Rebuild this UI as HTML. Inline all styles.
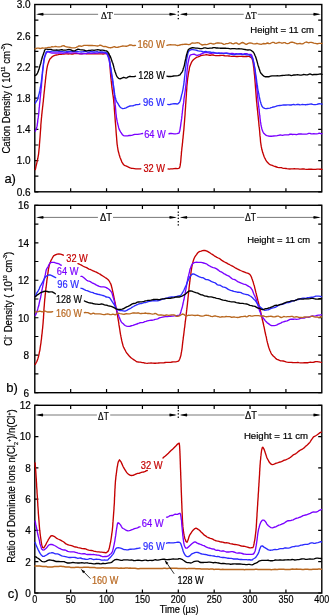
<!DOCTYPE html>
<html><head><meta charset="utf-8"><style>html,body{margin:0;padding:0;background:#fff;}svg{display:block;will-change:transform;filter:blur(0.3px);}</style></head><body>
<svg width="331" height="616" viewBox="0 0 331 616" font-family='"Liberation Sans", sans-serif'>
<rect width="331" height="616" fill="#fff"/>
<rect x="34.80" y="4.50" width="287.00" height="187.30" fill="none" stroke="#000" stroke-width="1.40"/>
<path d="M34.80,4.50H38.40M321.80,4.50H318.20" stroke="#000" stroke-width="1.2"/>
<path d="M34.80,20.11H38.40M321.80,20.11H318.20" stroke="#000" stroke-width="1.2"/>
<path d="M34.80,35.72H38.40M321.80,35.72H318.20" stroke="#000" stroke-width="1.2"/>
<path d="M34.80,51.33H38.40M321.80,51.33H318.20" stroke="#000" stroke-width="1.2"/>
<path d="M34.80,66.93H38.40M321.80,66.93H318.20" stroke="#000" stroke-width="1.2"/>
<path d="M34.80,82.54H38.40M321.80,82.54H318.20" stroke="#000" stroke-width="1.2"/>
<path d="M34.80,98.15H38.40M321.80,98.15H318.20" stroke="#000" stroke-width="1.2"/>
<path d="M34.80,113.76H38.40M321.80,113.76H318.20" stroke="#000" stroke-width="1.2"/>
<path d="M34.80,129.37H38.40M321.80,129.37H318.20" stroke="#000" stroke-width="1.2"/>
<path d="M34.80,144.98H38.40M321.80,144.98H318.20" stroke="#000" stroke-width="1.2"/>
<path d="M34.80,160.58H38.40M321.80,160.58H318.20" stroke="#000" stroke-width="1.2"/>
<path d="M34.80,176.19H38.40M321.80,176.19H318.20" stroke="#000" stroke-width="1.2"/>
<path d="M34.80,191.80H38.40M321.80,191.80H318.20" stroke="#000" stroke-width="1.2"/>
<path d="M70.67,4.50V8.10M70.67,191.80V188.20" stroke="#000" stroke-width="1.2"/>
<path d="M106.55,4.50V8.10M106.55,191.80V188.20" stroke="#000" stroke-width="1.2"/>
<path d="M142.43,4.50V8.10M142.43,191.80V188.20" stroke="#000" stroke-width="1.2"/>
<path d="M178.30,4.50V8.10M178.30,191.80V188.20" stroke="#000" stroke-width="1.2"/>
<path d="M214.18,4.50V8.10M214.18,191.80V188.20" stroke="#000" stroke-width="1.2"/>
<path d="M250.05,4.50V8.10M250.05,191.80V188.20" stroke="#000" stroke-width="1.2"/>
<path d="M285.93,4.50V8.10M285.93,191.80V188.20" stroke="#000" stroke-width="1.2"/>
<text x="30.60" y="8.40" font-size="10.00" text-anchor="end" fill="#000" stroke="#000" stroke-width="0.20" >3.0</text>
<text x="30.60" y="39.62" font-size="10.00" text-anchor="end" fill="#000" stroke="#000" stroke-width="0.20" >2.6</text>
<text x="30.60" y="70.83" font-size="10.00" text-anchor="end" fill="#000" stroke="#000" stroke-width="0.20" >2.2</text>
<text x="30.60" y="102.05" font-size="10.00" text-anchor="end" fill="#000" stroke="#000" stroke-width="0.20" >1.8</text>
<text x="30.60" y="133.27" font-size="10.00" text-anchor="end" fill="#000" stroke="#000" stroke-width="0.20" >1.4</text>
<text x="30.60" y="164.48" font-size="10.00" text-anchor="end" fill="#000" stroke="#000" stroke-width="0.20" >1.0</text>
<text x="30.60" y="195.70" font-size="10.00" text-anchor="end" fill="#000" stroke="#000" stroke-width="0.20" >0.6</text>
<path d="M37.80,14.30H175.30M181.30,14.30H318.80" stroke="#555" stroke-width="0.8"/>
<path d="M36.00,14.30L43.20,12.85Q44.10,14.30 43.20,15.75Z" fill="#000"/>
<path d="M176.90,14.30L169.70,12.85Q168.80,14.30 169.70,15.75Z" fill="#000"/>
<path d="M179.70,14.30L186.90,12.85Q187.80,14.30 186.90,15.75Z" fill="#000"/>
<path d="M320.90,14.30L313.70,12.85Q312.80,14.30 313.70,15.75Z" fill="#000"/>
<rect x="177.65" y="11.15" width="1.3" height="1.3" fill="#000"/>
<rect x="177.65" y="14.55" width="1.3" height="1.3" fill="#000"/>
<rect x="177.65" y="17.95" width="1.3" height="1.3" fill="#000"/>
<rect x="34.80" y="205.30" width="287.00" height="187.40" fill="none" stroke="#000" stroke-width="1.40"/>
<path d="M34.80,205.30H38.40M321.80,205.30H318.20" stroke="#000" stroke-width="1.2"/>
<path d="M34.80,224.04H38.40M321.80,224.04H318.20" stroke="#000" stroke-width="1.2"/>
<path d="M34.80,242.78H38.40M321.80,242.78H318.20" stroke="#000" stroke-width="1.2"/>
<path d="M34.80,261.52H38.40M321.80,261.52H318.20" stroke="#000" stroke-width="1.2"/>
<path d="M34.80,280.26H38.40M321.80,280.26H318.20" stroke="#000" stroke-width="1.2"/>
<path d="M34.80,299.00H38.40M321.80,299.00H318.20" stroke="#000" stroke-width="1.2"/>
<path d="M34.80,317.74H38.40M321.80,317.74H318.20" stroke="#000" stroke-width="1.2"/>
<path d="M34.80,336.48H38.40M321.80,336.48H318.20" stroke="#000" stroke-width="1.2"/>
<path d="M34.80,355.22H38.40M321.80,355.22H318.20" stroke="#000" stroke-width="1.2"/>
<path d="M34.80,373.96H38.40M321.80,373.96H318.20" stroke="#000" stroke-width="1.2"/>
<path d="M34.80,392.70H38.40M321.80,392.70H318.20" stroke="#000" stroke-width="1.2"/>
<path d="M70.67,205.30V208.90M70.67,392.70V389.10" stroke="#000" stroke-width="1.2"/>
<path d="M106.55,205.30V208.90M106.55,392.70V389.10" stroke="#000" stroke-width="1.2"/>
<path d="M142.43,205.30V208.90M142.43,392.70V389.10" stroke="#000" stroke-width="1.2"/>
<path d="M178.30,205.30V208.90M178.30,392.70V389.10" stroke="#000" stroke-width="1.2"/>
<path d="M214.18,205.30V208.90M214.18,392.70V389.10" stroke="#000" stroke-width="1.2"/>
<path d="M250.05,205.30V208.90M250.05,392.70V389.10" stroke="#000" stroke-width="1.2"/>
<path d="M285.93,205.30V208.90M285.93,392.70V389.10" stroke="#000" stroke-width="1.2"/>
<text x="29.10" y="209.20" font-size="10.00" text-anchor="end" fill="#000" stroke="#000" stroke-width="0.20" >16</text>
<text x="29.10" y="246.68" font-size="10.00" text-anchor="end" fill="#000" stroke="#000" stroke-width="0.20" >14</text>
<text x="29.10" y="284.16" font-size="10.00" text-anchor="end" fill="#000" stroke="#000" stroke-width="0.20" >12</text>
<text x="29.10" y="321.64" font-size="10.00" text-anchor="end" fill="#000" stroke="#000" stroke-width="0.20" >10</text>
<text x="29.10" y="359.12" font-size="10.00" text-anchor="end" fill="#000" stroke="#000" stroke-width="0.20" >8</text>
<text x="29.10" y="396.60" font-size="10.00" text-anchor="end" fill="#000" stroke="#000" stroke-width="0.20" >6</text>
<path d="M37.80,217.40H175.30M181.30,217.40H318.80" stroke="#555" stroke-width="0.8"/>
<path d="M36.00,217.40L43.20,215.95Q44.10,217.40 43.20,218.85Z" fill="#000"/>
<path d="M176.90,217.40L169.70,215.95Q168.80,217.40 169.70,218.85Z" fill="#000"/>
<path d="M179.70,217.40L186.90,215.95Q187.80,217.40 186.90,218.85Z" fill="#000"/>
<path d="M320.90,217.40L313.70,215.95Q312.80,217.40 313.70,218.85Z" fill="#000"/>
<rect x="177.65" y="211.55" width="1.3" height="1.3" fill="#000"/>
<rect x="177.65" y="214.55" width="1.3" height="1.3" fill="#000"/>
<rect x="177.65" y="217.65" width="1.3" height="1.3" fill="#000"/>
<rect x="177.65" y="221.05" width="1.3" height="1.3" fill="#000"/>
<rect x="177.65" y="224.25" width="1.3" height="1.3" fill="#000"/>
<rect x="34.80" y="405.30" width="287.00" height="187.70" fill="none" stroke="#000" stroke-width="1.40"/>
<path d="M34.80,405.30H38.40M321.80,405.30H318.20" stroke="#000" stroke-width="1.2"/>
<path d="M34.80,436.58H38.40M321.80,436.58H318.20" stroke="#000" stroke-width="1.2"/>
<path d="M34.80,467.87H38.40M321.80,467.87H318.20" stroke="#000" stroke-width="1.2"/>
<path d="M34.80,499.15H38.40M321.80,499.15H318.20" stroke="#000" stroke-width="1.2"/>
<path d="M34.80,530.43H38.40M321.80,530.43H318.20" stroke="#000" stroke-width="1.2"/>
<path d="M34.80,561.72H38.40M321.80,561.72H318.20" stroke="#000" stroke-width="1.2"/>
<path d="M34.80,593.00H38.40M321.80,593.00H318.20" stroke="#000" stroke-width="1.2"/>
<path d="M70.67,405.30V408.90M70.67,593.00V589.40" stroke="#000" stroke-width="1.2"/>
<path d="M106.55,405.30V408.90M106.55,593.00V589.40" stroke="#000" stroke-width="1.2"/>
<path d="M142.43,405.30V408.90M142.43,593.00V589.40" stroke="#000" stroke-width="1.2"/>
<path d="M178.30,405.30V408.90M178.30,593.00V589.40" stroke="#000" stroke-width="1.2"/>
<path d="M214.18,405.30V408.90M214.18,593.00V589.40" stroke="#000" stroke-width="1.2"/>
<path d="M250.05,405.30V408.90M250.05,593.00V589.40" stroke="#000" stroke-width="1.2"/>
<path d="M285.93,405.30V408.90M285.93,593.00V589.40" stroke="#000" stroke-width="1.2"/>
<text x="30.80" y="409.20" font-size="10.00" text-anchor="end" fill="#000" stroke="#000" stroke-width="0.20" >12</text>
<text x="30.80" y="440.48" font-size="10.00" text-anchor="end" fill="#000" stroke="#000" stroke-width="0.20" >10</text>
<text x="30.80" y="471.77" font-size="10.00" text-anchor="end" fill="#000" stroke="#000" stroke-width="0.20" >8</text>
<text x="30.80" y="503.05" font-size="10.00" text-anchor="end" fill="#000" stroke="#000" stroke-width="0.20" >6</text>
<text x="30.80" y="534.33" font-size="10.00" text-anchor="end" fill="#000" stroke="#000" stroke-width="0.20" >4</text>
<text x="30.80" y="565.62" font-size="10.00" text-anchor="end" fill="#000" stroke="#000" stroke-width="0.20" >2</text>
<text x="30.80" y="596.90" font-size="10.00" text-anchor="end" fill="#000" stroke="#000" stroke-width="0.20" >0</text>
<path d="M37.80,415.00H175.30M181.30,415.00H318.80" stroke="#555" stroke-width="0.8"/>
<path d="M35.60,415.00L42.80,413.55Q43.70,415.00 42.80,416.45Z" fill="#000"/>
<path d="M176.90,415.00L169.70,413.55Q168.80,415.00 169.70,416.45Z" fill="#000"/>
<path d="M179.70,415.00L186.90,413.55Q187.80,415.00 186.90,416.45Z" fill="#000"/>
<path d="M320.90,415.00L313.70,413.55Q312.80,415.00 313.70,416.45Z" fill="#000"/>
<rect x="177.65" y="410.05" width="1.3" height="1.3" fill="#000"/>
<rect x="177.65" y="413.25" width="1.3" height="1.3" fill="#000"/>
<rect x="177.65" y="416.55" width="1.3" height="1.3" fill="#000"/>
<text x="34.80" y="603.40" font-size="10.00" text-anchor="middle" fill="#000" stroke="#000" stroke-width="0.20" textLength="5.0" lengthAdjust="spacingAndGlyphs">0</text>
<text x="70.67" y="603.40" font-size="10.00" text-anchor="middle" fill="#000" stroke="#000" stroke-width="0.20" textLength="10.0" lengthAdjust="spacingAndGlyphs">50</text>
<text x="106.55" y="603.40" font-size="10.00" text-anchor="middle" fill="#000" stroke="#000" stroke-width="0.20" textLength="15.0" lengthAdjust="spacingAndGlyphs">100</text>
<text x="142.43" y="603.40" font-size="10.00" text-anchor="middle" fill="#000" stroke="#000" stroke-width="0.20" textLength="15.0" lengthAdjust="spacingAndGlyphs">150</text>
<text x="178.30" y="603.40" font-size="10.00" text-anchor="middle" fill="#000" stroke="#000" stroke-width="0.20" textLength="15.0" lengthAdjust="spacingAndGlyphs">200</text>
<text x="214.18" y="603.40" font-size="10.00" text-anchor="middle" fill="#000" stroke="#000" stroke-width="0.20" textLength="15.0" lengthAdjust="spacingAndGlyphs">250</text>
<text x="250.05" y="603.40" font-size="10.00" text-anchor="middle" fill="#000" stroke="#000" stroke-width="0.20" textLength="15.0" lengthAdjust="spacingAndGlyphs">300</text>
<text x="285.93" y="603.40" font-size="10.00" text-anchor="middle" fill="#000" stroke="#000" stroke-width="0.20" textLength="15.0" lengthAdjust="spacingAndGlyphs">350</text>
<text x="321.80" y="603.40" font-size="10.00" text-anchor="middle" fill="#000" stroke="#000" stroke-width="0.20" textLength="15.0" lengthAdjust="spacingAndGlyphs">400</text>
<text x="179.20" y="613.20" font-size="10.00" text-anchor="middle" fill="#000" stroke="#000" stroke-width="0.20" textLength="39" lengthAdjust="spacingAndGlyphs">Time (&#181;s)</text>
<rect x="98.10" y="11.50" width="15.90" height="5" fill="#fff"/>
<text x="106.80" y="19.00" font-size="10" text-anchor="middle" font-family='"Liberation Serif", serif' stroke="#000" stroke-width="0.2" textLength="11.6" lengthAdjust="spacingAndGlyphs">&#916;T</text>
<rect x="243.70" y="11.20" width="14.10" height="5" fill="#fff"/>
<text x="250.80" y="18.70" font-size="10" text-anchor="middle" font-family='"Liberation Serif", serif' stroke="#000" stroke-width="0.2" textLength="11.3" lengthAdjust="spacingAndGlyphs">&#916;T</text>
<rect x="97.90" y="213.30" width="15.10" height="5" fill="#fff"/>
<text x="106.00" y="220.80" font-size="10" text-anchor="middle" font-family='"Liberation Sans", sans-serif' stroke="#000" stroke-width="0.2" textLength="12.0" lengthAdjust="spacingAndGlyphs">&#916;T</text>
<rect x="244.20" y="213.50" width="12.80" height="5" fill="#fff"/>
<text x="250.60" y="221.00" font-size="10" text-anchor="middle" font-family='"Liberation Sans", sans-serif' stroke="#000" stroke-width="0.2" textLength="11.0" lengthAdjust="spacingAndGlyphs">&#916;T</text>
<rect x="96.90" y="412.10" width="13.30" height="5" fill="#fff"/>
<text x="103.40" y="419.60" font-size="10" text-anchor="middle" font-family='"Liberation Sans", sans-serif' stroke="#000" stroke-width="0.2" textLength="10.6" lengthAdjust="spacingAndGlyphs">&#916;T</text>
<rect x="244.60" y="411.50" width="13.60" height="5" fill="#fff"/>
<text x="251.00" y="419.00" font-size="10" text-anchor="middle" font-family='"Liberation Sans", sans-serif' stroke="#000" stroke-width="0.2" textLength="11.9" lengthAdjust="spacingAndGlyphs">&#916;T</text>
<text x="250.30" y="33.20" font-size="9.50" text-anchor="start" fill="#000" stroke="#000" stroke-width="0.20" textLength="63.6" lengthAdjust="spacingAndGlyphs">Height = 11 cm</text>
<text x="247.20" y="242.60" font-size="9.50" text-anchor="start" fill="#000" stroke="#000" stroke-width="0.20" textLength="63.0" lengthAdjust="spacingAndGlyphs">Height = 11 cm</text>
<text x="243.90" y="438.60" font-size="9.50" text-anchor="start" fill="#000" stroke="#000" stroke-width="0.20" textLength="64.2" lengthAdjust="spacingAndGlyphs">Height = 11 cm</text>
<text x="4.40" y="182.80" font-size="13.00" text-anchor="start" fill="#000" stroke="#000" stroke-width="0.20" >a)</text>
<text x="6.30" y="392.00" font-size="13.00" text-anchor="start" fill="#000" stroke="#000" stroke-width="0.20" >b)</text>
<text x="7.70" y="598.00" font-size="13.00" text-anchor="start" fill="#000" stroke="#000" stroke-width="0.20" >c)</text>
<text transform="translate(9.60,153.60) rotate(-90) scale(0.889,1)" font-size="10.80" stroke="#000" stroke-width="0.2">Cation Density ( 10<tspan font-size="6.00" dy="-4.60">11</tspan><tspan dy="4.60"> cm</tspan><tspan font-size="6.00" dy="-4.60">-3</tspan><tspan dy="4.60">)</tspan></text>
<text transform="translate(11.70,345.80) rotate(-90) scale(0.889,1)" font-size="10.80" stroke="#000" stroke-width="0.2">Cl<tspan font-size="6.00" dy="-4.60">-</tspan><tspan dy="4.60"> Density ( 10</tspan><tspan font-size="6.00" dy="-4.60">10</tspan><tspan dy="4.60"> cm</tspan><tspan font-size="6.00" dy="-4.60">-3</tspan><tspan dy="4.60">)</tspan></text>
<text transform="translate(15.30,562.80) rotate(-90) scale(0.889,1)" font-size="10.80" stroke="#000" stroke-width="0.2">Ratio of Dominate Ions n(Cl<tspan font-size="6.00" dy="2.2">2</tspan><tspan font-size="6.00" dy="-6.80">+</tspan><tspan dy="4.60">)/n(Cl</tspan><tspan font-size="6.00" dy="-4.60">+</tspan><tspan dy="4.60">)</tspan></text>
<path d="M35.3,169.6 35.5,168.9 35.7,167.8 36.0,166.4 36.3,165.0 36.7,163.6 37.0,162.1 37.2,161.2 37.4,160.3 37.6,159.4 37.8,158.5 38.0,157.3 38.2,156.2 38.4,155.1 38.6,153.8 38.8,151.9 39.0,149.7 39.1,148.8 39.2,147.9 39.3,147.1 39.4,146.1 39.4,145.0 39.5,143.8 39.6,142.6 39.7,141.4 39.8,140.1 39.9,138.9 40.0,137.7 40.1,136.4 40.2,135.0 40.3,133.4 40.4,132.0 40.5,130.7 40.6,129.5 40.7,128.3 40.8,126.9 40.8,125.6 40.9,124.3 41.0,123.2 41.1,122.2 41.2,121.0 41.3,120.0 41.4,118.5 41.6,116.9 41.7,115.6 41.8,114.3 42.0,112.8 42.1,111.6 42.2,110.5 42.4,109.3 42.5,108.2 42.6,107.0 42.8,105.8 42.9,104.8 43.0,103.8 43.1,102.7 43.3,101.5 43.4,100.1 43.5,98.7 43.7,97.3 43.8,96.1 43.9,94.7 44.1,93.3 44.2,91.9 44.4,90.6 44.5,89.5 44.6,88.2 44.8,86.7 44.9,85.4 45.0,84.5 45.1,83.5 45.3,82.2 45.4,80.7 45.5,79.6 45.7,78.3 45.8,76.9 46.0,75.5 46.1,74.5 46.3,73.4 46.4,72.2 46.5,71.0 46.7,70.1 46.8,69.2 47.0,68.2 47.3,66.6 47.6,65.2 48.0,63.9 48.3,63.0 48.7,62.1 49.0,61.0 49.7,59.4 50.3,58.6 51.0,58.0 52.0,56.9 53.0,56.2 54.2,55.7 55.5,55.2 56.4,55.0 58.2,54.7 59.1,54.4 60.1,54.4 61.2,54.3 62.5,54.2 63.9,54.1 65.4,53.9 67.2,53.9 68.2,54.0 69.2,53.9 70.4,53.8 71.6,54.0 72.9,54.0 74.2,53.7 75.5,53.6 76.8,53.6 78.1,53.7 79.4,53.8 80.6,53.8 81.8,53.8 83.0,53.7 84.0,53.6 85.5,53.6 86.9,53.8 88.2,53.9 89.4,53.9 90.6,53.8 91.7,53.7 92.8,53.8 93.9,53.8 95.0,53.7 96.4,53.8 97.9,53.8 99.3,53.8 100.7,53.8 101.9,53.9 103.0,54.0 104.0,53.8 105.9,53.4 107.0,53.5 108.1,53.5 109.0,56.1 109.1,56.8 109.2,57.8 109.3,58.7 109.4,59.5 109.5,60.6 109.7,62.2 109.8,63.6 109.9,64.9 110.0,66.3 110.1,67.8 110.2,69.2 110.3,70.6 110.4,72.2 110.5,73.4 110.6,74.5 110.7,75.7 110.8,76.9 110.9,77.8 111.1,79.2 111.2,80.9 111.4,82.5 111.5,83.7 111.7,85.1 111.8,86.5 111.9,87.7 112.1,88.7 112.2,89.6 112.4,90.7 112.5,92.0 112.7,93.4 112.8,94.4 113.0,95.2 113.1,96.2 113.3,97.3 113.4,98.4 113.6,99.6 113.7,101.2 113.9,103.1 114.0,104.0 114.1,105.0 114.2,106.1 114.3,107.2 114.3,108.4 114.4,109.7 114.5,110.9 114.6,112.2 114.7,113.6 114.8,114.8 114.9,116.0 115.0,117.4 115.1,118.7 115.2,120.1 115.3,121.4 115.4,122.6 115.5,123.6 115.6,124.9 115.7,126.2 115.8,127.3 115.9,128.5 116.0,130.0 116.1,131.6 116.2,133.0 116.3,134.3 116.4,135.4 116.5,136.5 116.6,137.8 116.7,139.3 116.8,140.5 116.9,141.6 117.0,142.9 117.1,144.0 117.2,144.8 117.4,145.7 117.5,146.9 117.8,148.5 118.0,149.8 118.3,151.3 118.7,152.7 119.0,153.9 119.3,155.0 119.7,156.2 120.0,157.4 120.4,158.3 120.7,159.0 121.3,160.6 121.9,162.1 122.6,163.2 123.3,164.3 124.3,165.3 125.3,165.7 126.4,166.1 127.6,166.7 128.9,167.3 130.2,167.9 131.6,168.3 132.9,168.4 134.4,168.6 135.9,168.8 137.4,168.9 138.8,168.9 140.0,168.9 140.8,168.8" fill="none" stroke="#c40000" stroke-width="1.35" stroke-linejoin="round" stroke-linecap="round"/>
<path d="M168.1,168.9 169.2,169.1 170.8,168.9 172.5,168.8 174.0,168.6 175.8,168.5 177.4,168.6 178.7,168.4 179.6,167.8 180.2,165.4 180.3,164.7 180.4,163.7 180.6,162.7 180.7,161.7 180.8,160.7 180.9,159.3 181.0,158.0 181.1,156.6 181.3,154.9 181.4,153.3 181.5,151.9 181.7,150.4 181.8,149.2 181.9,148.1 182.0,147.2 182.2,146.1 182.3,144.8 182.4,143.6 182.6,142.3 182.7,140.8 182.8,139.4 183.0,138.3 183.1,137.1 183.2,135.7 183.4,134.3 183.5,132.9 183.6,131.5 183.8,130.3 183.9,129.0 184.0,127.6 184.1,126.4 184.2,125.2 184.3,124.0 184.4,122.7 184.5,121.6 184.6,120.2 184.7,118.7 184.8,117.5 184.9,116.4 185.0,115.2 185.1,114.0 185.1,112.8 185.2,111.5 185.3,110.2 185.4,109.1 185.5,107.8 185.6,106.4 185.6,105.1 185.7,104.2 185.8,103.2 185.9,101.6 186.0,100.1 186.1,98.8 186.2,97.2 186.3,96.0 186.4,94.8 186.4,93.3 186.5,92.1 186.6,90.9 186.7,89.6 186.8,88.4 186.8,87.2 186.9,86.0 187.0,84.9 187.1,84.1 187.3,82.4 187.4,80.8 187.6,79.3 187.7,78.1 187.9,77.0 188.1,76.1 188.2,75.0 188.4,73.8 188.6,72.5 188.8,71.5 189.1,70.3 189.3,68.8 189.5,67.5 189.8,66.6 190.2,65.5 190.6,64.4 191.1,63.2 191.6,62.1 192.4,60.9 193.4,59.7 194.3,59.0 195.6,58.0 197.0,57.1 198.1,56.8 199.4,56.4 200.7,55.7 202.1,55.3 203.6,55.1 205.2,54.9 206.4,54.7 207.5,54.8 208.9,55.2 211.0,55.2 212.0,54.9 213.1,55.0 214.3,55.4 215.7,55.6 217.0,55.7 218.4,55.6 219.9,55.5 221.2,55.4 222.6,55.4 223.8,55.5 225.0,55.8 226.4,55.9 227.8,55.9 229.0,56.0 230.2,56.2 231.4,56.3 232.6,56.4 233.8,56.4 235.0,56.4 236.3,56.5 237.6,56.5 239.0,56.3 240.3,56.3 241.6,56.4 242.9,56.5 244.0,56.5 245.0,56.5 246.7,56.5 248.0,56.4 249.0,56.4 250.0,56.8 251.0,57.4 251.8,58.1 252.5,60.0 252.7,60.8 252.9,61.5 253.0,62.4 253.2,63.6 253.4,64.8 253.5,66.1 253.7,67.2 253.9,68.4 254.0,70.1 254.2,71.9 254.3,73.3 254.5,74.8 254.6,75.9 254.7,77.2 254.8,78.4 254.9,79.6 255.0,80.9 255.1,82.1 255.2,83.3 255.3,84.7 255.4,86.1 255.5,87.5 255.6,88.6 255.7,89.8 255.8,91.2 255.9,92.6 256.0,93.9 256.1,95.3 256.2,96.6 256.3,97.8 256.4,99.0 256.5,100.4 256.6,101.7 256.8,102.8 256.9,104.3 257.0,105.8 257.2,107.1 257.3,108.4 257.4,109.7 257.6,110.8 257.7,111.9 257.8,113.3 257.9,114.6 258.1,115.9 258.2,117.0 258.3,118.0 258.4,119.1 258.5,120.1 258.7,121.6 258.8,122.9 258.9,124.2 259.0,125.4 259.1,126.4 259.3,127.5 259.4,128.6 259.5,129.6 259.6,130.7 259.7,131.8 259.8,133.2 259.9,134.6 260.0,135.9 260.2,137.1 260.3,138.3 260.4,139.6 260.5,141.0 260.6,142.3 260.8,143.2 260.9,144.1 261.1,145.4 261.3,146.7 261.6,148.2 261.8,149.3 262.1,150.2 262.4,151.4 262.7,152.6 263.1,153.6 263.5,154.8 264.0,156.2 264.5,157.5 265.1,158.6 265.7,159.8 266.5,161.1 267.4,162.2 268.4,163.3 269.4,164.2 270.5,164.9 271.6,165.2 272.8,165.7 274.0,166.1 275.3,166.5 276.6,167.0 277.7,167.4 279.0,167.6 280.2,167.6 281.4,167.7 282.6,168.1 283.8,168.3 285.0,168.4 285.9,168.5 286.9,168.7 288.2,168.9 290.0,169.0 290.9,168.9 292.0,168.9 293.1,168.8 294.3,168.6 295.5,168.8 296.8,168.9 298.2,168.9 299.5,169.1 300.9,169.1 302.3,169.0 303.7,169.0 305.0,169.2 306.2,169.3 307.5,169.3 308.8,169.2 310.2,169.2 311.6,169.2 313.0,169.3 314.4,169.4 315.8,169.4 317.1,169.2 318.3,169.1 319.4,169.2 320.4,169.2 321.3,169.2 322.0,169.4" fill="none" stroke="#c40000" stroke-width="1.35" stroke-linejoin="round" stroke-linecap="round"/>
<path d="M35.3,131.3 35.6,130.5 36.1,129.4 36.5,128.1 37.0,126.4 37.2,125.3 37.3,124.2 37.5,123.1 37.7,121.7 37.8,120.0 38.0,118.8 38.2,117.9 38.3,116.8 38.5,115.6 38.6,114.3 38.8,113.1 38.9,111.9 39.0,110.6 39.1,109.2 39.2,107.8 39.4,106.4 39.5,105.1 39.6,103.9 39.8,102.5 39.9,101.4 40.0,100.4 40.1,98.9 40.2,97.6 40.4,96.5 40.5,95.1 40.6,93.7 40.8,92.7 40.9,91.6 41.0,90.3 41.1,89.0 41.2,88.1 41.4,86.8 41.5,85.2 41.6,83.8 41.7,82.7 41.8,81.6 41.9,80.2 42.0,78.9 42.1,77.5 42.2,76.2 42.3,75.2 42.4,74.1 42.5,72.6 42.6,71.3 42.8,70.3 42.9,69.2 43.0,68.2 43.2,67.0 43.4,65.5 43.5,64.0 43.7,62.8 43.9,61.5 44.1,60.0 44.3,58.8 44.6,57.5 44.8,56.7 45.0,56.3 45.7,54.4 46.5,52.8 47.5,51.9 48.7,52.0 50.2,52.7 52.0,53.0 53.1,53.0 54.3,53.0 55.7,53.0 57.1,53.0 58.5,53.0 60.0,52.9 61.2,53.0 62.4,53.2 63.6,53.2 64.9,52.9 66.2,52.7 67.5,52.7 68.7,52.9 70.0,53.1 71.2,53.1 72.5,52.9 73.8,52.8 75.0,52.8 76.2,52.9 77.5,53.1 78.8,53.4 80.0,53.6 81.2,53.8 82.5,53.8 83.8,53.5 85.0,53.6 86.2,53.7 87.5,53.1 88.8,53.0 90.0,53.2 91.3,53.3 92.6,53.2 94.0,53.1 95.3,53.1 96.6,53.2 97.9,53.0 99.0,52.6 100.0,52.6 101.7,52.8 103.0,52.7 104.1,52.8 105.0,53.2 107.0,54.0 107.4,54.9 107.8,56.0 108.2,57.1 108.6,58.5 109.0,59.9 109.2,60.6 109.4,61.9 109.6,63.1 109.8,64.1 110.0,65.4 110.2,66.7 110.4,67.9 110.6,69.5 110.8,71.0 111.0,72.1 111.2,73.1 111.4,74.4 111.6,75.8 111.8,77.0 112.0,78.1 112.2,79.2 112.4,80.4 112.7,81.6 112.9,82.9 113.1,84.6 113.3,85.8 113.4,86.6 113.6,88.0 113.8,89.4 113.9,90.8 114.1,91.9 114.2,92.9 114.3,94.4 114.4,95.9 114.5,96.9 114.7,97.8 114.8,99.0 114.9,100.4 115.0,102.1 115.1,103.7 115.2,104.9 115.4,106.3 115.5,107.8 115.6,108.8 115.7,110.0 115.8,111.6 115.9,112.9 116.0,113.8 116.2,114.9 116.3,116.3 116.5,117.8 116.7,119.0 117.0,120.3 117.2,121.7 117.5,122.9 117.7,124.0 118.0,124.9 118.4,126.4 118.7,127.9 119.1,129.1 119.5,129.9 120.0,130.9 120.7,132.1 121.6,133.4 122.5,134.8 123.6,135.6 124.8,135.8 126.1,135.9 127.6,135.8 129.0,135.5 130.1,135.5 131.3,135.4 132.5,135.2 133.7,134.7 135.0,134.3 136.3,134.4 137.7,134.3 139.2,134.1 140.6,133.9 141.8,133.6 142.6,133.5" fill="none" stroke="#7a00ff" stroke-width="1.35" stroke-linejoin="round" stroke-linecap="round"/>
<path d="M168.9,133.8 169.8,133.5 171.2,133.5 172.7,133.7 174.0,133.9 175.5,133.8 176.9,133.7 178.0,133.4 178.9,133.2 179.5,131.8 179.7,131.0 179.9,130.2 180.1,129.0 180.3,127.7 180.5,126.6 180.7,125.1 181.0,122.8 181.1,121.8 181.3,121.2 181.4,120.4 181.5,119.5 181.7,118.4 181.8,116.9 182.0,115.4 182.1,114.2 182.3,112.9 182.4,111.5 182.6,109.8 182.8,108.1 182.9,106.8 183.1,106.0 183.2,105.2 183.4,104.1 183.6,102.9 183.8,101.2 183.9,99.6 184.1,98.1 184.3,96.8 184.5,95.6 184.7,94.6 184.8,93.4 185.0,92.2 185.2,91.1 185.3,90.2 185.5,88.7 185.6,87.3 185.8,86.1 185.9,84.8 186.0,83.6 186.1,82.8 186.3,81.5 186.4,80.0 186.5,79.0 186.6,77.6 186.7,76.1 186.8,75.0 186.9,73.8 187.0,72.3 187.1,70.8 187.2,69.3 187.4,67.9 187.5,67.0 187.7,65.5 187.9,63.9 188.2,62.4 188.5,61.1 188.7,59.8 189.0,58.6 189.3,57.3 190.0,55.5 190.8,54.8 191.6,54.6 193.9,54.1 195.0,54.5 196.1,55.2 197.4,55.4 198.9,54.9 199.9,54.6 200.9,54.1 202.1,53.5 203.4,53.0 204.6,52.7 206.0,52.6 207.4,52.7 208.7,52.9 210.0,53.3 211.2,53.4 212.3,53.0 213.4,53.0 215.0,53.1 216.0,53.1 217.1,53.3 218.4,53.4 219.7,53.4 221.0,53.3 222.4,53.2 223.7,53.2 225.0,53.1 226.2,53.1 227.5,53.2 228.8,53.4 230.0,53.6 231.2,53.5 232.5,53.4 233.8,53.7 235.0,53.9 236.3,53.7 237.6,53.8 239.0,53.9 240.3,53.7 241.6,53.7 242.9,54.3 244.0,54.2 245.0,53.6 246.7,53.7 248.0,54.1 249.1,54.3 250.0,54.4 251.2,54.5 252.0,55.8 252.3,56.9 252.7,58.0 253.0,58.9 253.3,60.2 253.7,61.8 254.0,63.6 254.2,64.7 254.3,65.9 254.5,67.0 254.6,68.0 254.8,69.1 254.9,70.4 255.1,71.8 255.2,73.1 255.4,74.5 255.5,76.1 255.7,77.7 255.8,79.0 256.0,80.0 256.1,80.7 256.2,82.0 256.4,83.6 256.5,84.8 256.6,85.9 256.7,87.2 256.9,88.3 257.0,89.7 257.1,90.9 257.2,92.0 257.4,93.6 257.5,95.0 257.6,96.0 257.7,97.5 257.9,98.9 258.0,100.2 258.1,101.5 258.3,102.9 258.4,104.1 258.6,105.4 258.7,106.7 258.9,108.0 259.0,109.2 259.2,110.7 259.3,112.3 259.5,113.5 259.6,114.4 259.8,115.4 259.9,116.6 260.0,118.0 260.2,119.3 260.3,120.2 260.5,121.9 260.8,123.5 261.0,124.9 261.2,125.9 261.4,126.9 261.7,128.1 261.9,128.9 262.1,129.6 262.7,131.3 263.4,132.6 264.0,133.6 265.7,135.1 266.8,135.5 268.0,136.0 269.4,136.2 271.1,136.2 272.3,136.2 273.6,136.0 275.0,135.8 276.1,135.9 277.2,135.7 278.5,135.3 280.2,135.0 281.2,135.1 282.3,135.3 283.5,135.1 284.8,134.9 286.1,134.8 287.4,134.9 288.7,134.8 290.0,134.2 291.2,134.2 292.5,134.5 293.7,134.3 295.0,134.4 296.2,134.7 297.5,134.3 298.7,134.0 300.0,134.0 301.2,134.0 302.5,134.1 303.7,134.1 304.9,134.1 306.1,134.2 307.4,133.9 308.7,133.4 310.0,133.4 311.2,133.9 312.5,133.9 313.8,133.7 315.2,133.8 316.6,133.9 318.0,133.6 319.2,133.2 320.3,133.4 321.3,133.8 322.0,133.6" fill="none" stroke="#7a00ff" stroke-width="1.35" stroke-linejoin="round" stroke-linecap="round"/>
<path d="M35.3,103.2 36.0,101.9 37.0,100.3 37.4,99.9 37.8,98.8 38.2,97.1 38.6,95.4 39.0,94.1 39.3,93.1 39.5,91.9 39.8,90.7 40.0,89.3 40.3,88.0 40.5,86.7 40.8,85.3 41.0,83.7 41.2,82.6 41.3,81.8 41.5,80.7 41.6,79.3 41.8,78.2 41.9,77.0 42.1,75.6 42.2,74.4 42.4,73.4 42.5,72.1 42.6,70.6 42.8,69.2 42.9,68.3 43.1,67.1 43.2,65.7 43.4,64.4 43.5,63.2 43.7,61.9 43.8,60.7 44.0,59.7 44.3,58.0 44.7,56.4 45.1,55.2 45.4,54.1 45.8,53.2 46.2,51.8 47.6,51.3 48.5,51.4 49.5,51.6 50.8,51.3 52.1,51.1 53.6,51.2 55.1,51.1 56.7,50.9 57.7,51.0 58.9,51.3 60.0,51.3 61.2,51.4 62.4,51.6 63.7,51.8 64.9,51.8 66.2,51.7 67.5,51.5 68.7,51.5 70.0,51.5 71.2,51.5 72.5,51.4 73.7,51.3 75.0,51.4 76.2,51.6 77.5,51.5 78.7,51.7 80.0,51.8 81.3,52.0 82.6,51.9 84.0,51.5 85.2,51.3 86.5,51.5 87.8,52.1 89.1,52.2 90.5,51.7 91.9,51.7 93.2,52.0 94.6,52.0 95.8,51.8 97.0,51.6 98.1,51.9 99.1,52.1 100.0,52.0 102.1,52.0 103.4,52.1 104.2,52.1 105.0,52.2 107.0,53.2 107.5,53.8 108.0,55.1 108.5,56.7 109.0,58.1 109.3,59.0 109.5,60.2 109.7,61.5 110.0,63.0 110.2,64.7 110.5,66.4 110.7,66.9 110.9,67.8 111.1,69.5 111.3,71.2 111.5,72.4 111.7,73.6 111.9,74.6 112.1,76.0 112.3,77.4 112.5,78.5 112.7,79.4 112.9,81.2 113.1,83.4 113.3,84.7 113.5,85.5 113.6,86.7 113.8,88.2 114.0,89.6 114.2,91.0 114.3,92.0 114.5,92.9 114.8,94.9 115.1,96.4 115.4,97.7 115.7,98.8 116.0,100.0 116.5,101.3 117.0,102.2 117.5,102.9 118.0,103.7 119.0,105.5 120.0,106.9 121.3,108.0 122.7,108.6 124.3,108.4 126.0,107.8 127.3,107.2 129.0,106.4 130.0,106.0 131.2,105.9 132.5,105.8 133.8,105.5 135.0,105.0 136.4,104.7 137.8,104.6 139.0,104.3 139.9,104.0" fill="none" stroke="#2b2bff" stroke-width="1.35" stroke-linejoin="round" stroke-linecap="round"/>
<path d="M167.8,104.4 168.7,104.6 169.9,104.5 171.4,104.2 172.8,103.9 174.0,103.7 175.6,103.7 176.9,104.0 178.0,103.8 179.5,102.3 180.0,101.3 180.4,100.0 181.0,98.0 181.2,96.8 181.5,95.4 181.8,94.2 182.1,93.3 182.4,92.2 182.7,90.6 183.0,89.1 183.2,87.8 183.4,86.5 183.6,85.5 183.8,84.5 183.9,83.1 184.1,82.0 184.2,81.2 184.3,79.8 184.5,78.1 184.6,76.8 184.8,75.8 184.9,74.8 185.0,73.5 185.1,72.2 185.3,70.7 185.4,69.4 185.5,68.0 185.7,66.9 185.9,65.5 186.1,63.8 186.3,62.4 186.5,61.1 186.7,59.5 186.9,58.3 187.1,57.4 187.3,56.4 187.5,55.3 188.1,52.7 188.7,51.3 189.3,50.7 190.3,50.0 191.6,49.7 192.9,49.6 194.4,49.8 196.1,50.1 197.2,50.5 198.3,50.9 199.6,51.1 200.8,51.2 202.2,51.5 203.4,51.8 204.6,51.6 205.8,51.5 207.2,51.8 208.5,51.9 210.0,52.0 211.1,52.3 212.3,52.4 213.5,52.3 214.7,52.7 216.0,53.1 217.4,53.1 218.8,53.0 220.3,53.1 221.4,53.2 222.5,53.4 223.8,53.6 225.0,53.4 226.4,53.2 227.7,53.6 229.0,53.9 230.3,54.2 231.6,54.3 232.8,54.6 233.9,54.9 235.0,54.5 236.5,54.2 237.9,54.1 239.3,54.0 240.6,54.2 241.8,54.6 243.0,54.5 244.0,54.2 245.0,54.4 246.7,54.8 248.0,54.8 249.1,54.9 250.0,55.4 251.2,56.2 252.0,57.6 252.3,58.2 252.7,58.9 253.0,60.1 253.3,61.6 253.7,62.9 254.0,64.1 254.2,65.1 254.4,66.2 254.6,67.2 254.8,68.1 255.0,69.2 255.2,70.4 255.4,71.9 255.6,73.5 255.8,74.8 256.0,76.0 256.2,77.5 256.4,78.6 256.5,79.7 256.7,81.4 256.9,83.0 257.1,84.2 257.3,85.1 257.5,86.4 257.6,87.8 257.8,89.0 258.0,90.2 258.2,91.5 258.5,92.6 258.8,93.7 259.0,95.0 259.2,96.4 259.5,97.7 259.8,99.0 260.0,100.1 260.4,101.5 260.8,102.7 261.1,104.0 261.6,105.3 262.0,106.3 263.1,107.6 264.7,108.4 265.7,108.6 266.8,108.5 268.2,108.3 270.0,108.1 271.0,107.7 272.0,107.4 273.2,107.0 274.4,106.8 275.7,106.4 277.1,105.8 278.4,105.6 279.8,105.5 281.2,105.4 282.4,105.2 283.6,105.0 284.8,105.0 286.0,105.0 287.3,104.9 288.6,104.9 289.9,105.0 291.2,105.0 292.5,104.6 293.7,104.4 295.0,104.8 296.3,104.7 297.5,104.3 298.8,104.5 300.0,104.8 301.3,104.7 302.5,104.5 303.8,104.6 305.0,104.7 306.2,104.7 307.5,104.5 308.7,104.3 310.0,104.1 311.3,104.0 312.7,104.4 314.1,104.6 315.5,104.6 316.9,104.4 318.2,104.0 319.3,103.7 320.4,103.8 321.3,103.9 322.0,104.2" fill="none" stroke="#2b2bff" stroke-width="1.35" stroke-linejoin="round" stroke-linecap="round"/>
<path d="M35.0,75.5 35.9,75.2 37.0,74.0 37.5,73.0 38.0,71.9 38.5,70.6 39.0,69.3 39.3,68.1 39.7,66.6 40.0,65.4 40.3,64.6 40.7,63.5 41.0,62.1 41.3,60.6 41.7,59.3 42.0,58.2 42.4,56.8 42.7,55.8 43.0,55.2 43.5,53.7 44.1,52.0 44.6,50.3 45.5,49.1 46.6,49.1 48.0,49.3 50.0,49.4 51.1,49.4 52.4,49.8 53.8,50.1 55.3,50.1 56.7,50.0 57.9,50.1 59.1,50.2 60.4,49.8 61.6,49.7 62.9,50.0 64.0,50.1 65.3,50.1 66.6,49.9 67.8,49.6 68.9,49.5 70.0,49.6 71.5,50.2 72.7,50.8 74.0,50.9 75.3,50.6 76.5,49.8 78.0,49.2 79.0,49.3 80.0,49.6 81.1,49.8 82.4,49.9 84.0,50.1 85.0,50.5 86.2,50.8 87.5,50.7 88.9,50.5 90.2,50.4 91.6,50.2 92.9,50.1 94.0,50.3 95.0,50.1 96.7,49.8 97.9,49.7 98.9,49.8 100.0,50.2 101.3,50.2 102.7,50.1 103.9,50.4 105.0,50.7 106.4,50.9 107.5,51.6 108.2,52.5 108.9,53.6 109.5,55.0 110.0,55.8 110.5,56.9 111.0,58.3 111.5,59.8 111.9,61.1 112.3,62.2 112.8,63.3 113.2,64.7 113.6,66.2 114.0,67.9 114.4,69.4 114.8,70.7 115.1,71.8 115.5,72.7 116.0,74.3 116.6,75.7 117.2,76.9 118.5,78.3 120.0,78.8 121.1,78.5 122.4,77.8 123.6,77.3 124.8,77.7 126.0,78.0 127.2,77.6 128.4,76.8 129.7,76.3 131.0,76.5 132.6,76.7 134.3,76.6 135.5,76.2" fill="none" stroke="#000000" stroke-width="1.35" stroke-linejoin="round" stroke-linecap="round"/>
<path d="M167.0,76.1 167.9,76.5 169.2,76.3 170.7,76.5 172.0,76.4 173.5,76.0 174.9,75.9 176.0,75.9 178.0,75.7 180.0,74.8 180.8,73.7 181.6,72.6 182.1,72.1 182.5,71.2 183.0,69.7 183.4,68.2 183.8,67.2 184.3,65.6 184.5,64.5 184.8,62.9 185.1,61.4 185.4,60.1 185.7,58.9 186.0,57.5 186.3,56.0 186.6,54.7 187.1,53.1 187.5,51.6 188.0,50.4 188.4,49.6 190.2,48.3 191.4,48.0 192.8,47.7 194.3,47.9 195.7,48.1 197.2,48.1 198.9,48.3 200.1,48.6 201.4,48.6 202.7,48.3 204.0,47.9 205.2,47.8 206.4,48.1 207.4,48.4 208.5,48.4 210.0,48.1 211.0,48.1 212.2,48.0 213.5,47.6 214.8,47.7 216.2,48.0 217.5,48.0 218.8,48.1 220.0,48.2 221.5,48.2 222.9,48.2 224.2,48.2 225.5,48.2 226.7,48.4 228.0,48.4 229.4,48.6 230.7,48.8 232.0,48.6 233.4,48.6 235.0,48.7 236.1,48.8 237.4,48.8 238.8,48.7 240.1,48.9 241.5,48.9 242.8,49.1 244.0,49.4 245.0,49.5 246.7,49.8 248.0,50.0 249.0,49.9 250.0,49.9 251.4,50.5 252.5,51.4 253.3,52.1 254.2,53.5 255.0,55.5 255.4,56.3 255.8,57.2 256.2,58.6 256.7,60.2 257.1,61.7 257.5,63.2 257.9,64.7 258.3,66.0 258.8,67.4 259.2,68.8 259.6,69.9 260.0,71.3 260.6,72.8 261.2,73.5 261.9,74.2 262.5,75.0 263.7,76.1 265.0,76.7 266.2,76.7 268.0,76.7 269.2,76.7 270.6,76.2 272.1,75.8 273.6,75.8 275.0,75.9 276.2,75.8 277.3,75.7 278.4,75.8 279.6,75.8 281.0,75.6 282.1,75.5 283.3,75.4 284.6,75.3 285.9,75.2 287.3,75.1 288.6,74.9 290.0,75.2 291.2,75.6 292.4,75.3 293.7,75.0 294.9,75.0 296.2,74.8 297.5,74.6 298.7,74.8 300.0,75.1 301.2,75.1 302.5,74.8 303.7,74.5 304.9,74.6 306.1,74.9 307.4,74.8 308.7,74.3 310.0,73.9 311.2,74.3 312.5,74.8 313.8,74.5 315.2,74.4 316.6,74.5 318.0,74.4 319.2,74.2 320.3,74.0 321.3,74.2 322.0,74.4" fill="none" stroke="#000000" stroke-width="1.35" stroke-linejoin="round" stroke-linecap="round"/>
<path d="M35.0,48.8 35.9,48.6 37.1,48.1 38.6,48.1 40.0,48.5 41.1,48.4 42.3,48.0 43.6,48.1 44.8,48.1 46.0,47.8 47.2,47.7 48.4,47.4 49.6,47.3 50.8,47.1 52.0,46.6 53.2,46.8 54.4,46.7 55.5,46.4 56.7,46.7 58.0,46.9 59.4,46.8 60.9,46.6 62.4,45.8 63.8,45.6 65.0,46.4 66.4,46.8 67.5,47.0 68.7,47.1 70.2,47.5 71.7,47.9 73.3,47.9 74.7,47.8 76.2,47.4 77.8,46.6 78.9,45.9 80.2,46.0 81.5,46.3 82.7,45.9 84.0,45.3 85.1,45.3 86.2,45.4 87.3,45.3 88.5,45.5 90.0,45.5 91.1,45.4 92.3,45.5 93.6,45.6 94.9,45.7 96.3,45.9 97.6,46.0 98.9,45.7 100.0,45.2 101.4,45.5 102.6,46.2 103.8,46.6 105.0,46.4 106.1,46.7 107.3,47.1 108.5,47.5 109.8,47.7 111.0,47.7 112.2,47.5 113.4,46.8 114.5,46.7 116.0,47.4 117.4,47.4 118.7,47.0 120.0,46.7 121.4,46.3 122.8,46.0 124.1,46.1 125.4,46.2 127.0,46.2 128.4,45.7 130.0,44.8 131.4,45.0 133.0,45.7 134.5,45.5 135.5,45.4" fill="none" stroke="#b8671f" stroke-width="1.35" stroke-linejoin="round" stroke-linecap="round"/>
<path d="M167.0,45.4 167.8,45.1 169.0,44.8 170.4,44.7 171.9,44.9 173.5,44.9 175.0,44.8 176.2,45.2 177.4,45.5 178.6,45.4 179.9,45.0 181.2,44.7 182.5,44.5 183.7,44.4 185.0,44.2 186.2,44.2 187.5,44.4 188.8,44.7 190.0,44.4 191.2,43.4 192.5,42.9 193.8,43.1 195.0,43.2 196.2,42.9 197.5,42.6 198.8,42.8 200.0,43.7 201.2,44.5 202.5,45.0 203.8,44.6 205.0,44.4 206.2,44.6 207.5,44.3 208.8,43.8 210.0,43.4 211.2,43.4 212.5,43.8 213.8,44.0 215.0,43.7 216.2,43.2 217.5,42.8 218.8,43.0 220.0,43.2 221.2,43.1 222.5,43.6 223.8,44.3 225.0,44.1 226.2,43.7 227.4,43.6 228.5,43.3 229.7,42.8 230.9,42.9 232.1,43.7 233.5,43.9 235.0,43.1 236.1,42.8 237.3,43.4 238.5,44.2 239.8,44.0 241.1,43.0 242.5,42.5 243.9,43.0 245.2,44.0 246.5,44.3 247.7,43.6 248.9,43.2 250.0,43.0 251.5,43.1 252.9,43.6 254.1,43.9 255.3,43.9 256.5,43.5 257.6,43.5 258.8,44.0 260.0,44.1 261.2,44.3 262.5,43.9 263.8,43.5 265.0,43.8 266.2,43.5 267.5,43.0 268.8,43.5 270.0,43.6 271.2,43.0 272.5,42.4 273.8,42.4 275.0,43.1 276.2,43.3 277.5,42.9 278.8,42.5 280.0,42.5 281.2,43.0 282.5,43.1 283.8,42.6 285.0,42.7 286.2,43.3 287.5,43.6 288.8,43.3 290.0,42.6 291.2,42.2 292.5,42.2 293.8,42.6 295.0,43.0 296.2,43.5 297.5,43.9 298.8,43.6 300.0,43.3 301.2,43.9 302.5,43.9 303.7,43.3 304.9,42.5 306.1,42.0 307.4,42.4 308.7,42.8 310.0,42.4 311.2,42.3 312.5,42.7 313.8,43.2 315.2,43.4 316.6,43.7 318.0,43.7 319.2,43.4 320.3,43.4 321.3,43.4 322.0,43.5" fill="none" stroke="#b8671f" stroke-width="1.35" stroke-linejoin="round" stroke-linecap="round"/>
<text x="137.60" y="48.30" font-size="10.20" text-anchor="start" fill="#b8671f" stroke="#b8671f" stroke-width="0.20" textLength="27.2" lengthAdjust="spacingAndGlyphs">160 W</text>
<text x="138.30" y="79.30" font-size="10.20" text-anchor="start" fill="#000000" stroke="#000000" stroke-width="0.20" textLength="26.6" lengthAdjust="spacingAndGlyphs">128 W</text>
<text x="143.00" y="105.50" font-size="10.20" text-anchor="start" fill="#2b2bff" stroke="#2b2bff" stroke-width="0.20" textLength="22" lengthAdjust="spacingAndGlyphs">96 W</text>
<text x="144.20" y="138.00" font-size="10.20" text-anchor="start" fill="#7a00ff" stroke="#7a00ff" stroke-width="0.20" textLength="21.6" lengthAdjust="spacingAndGlyphs">64 W</text>
<text x="143.40" y="172.10" font-size="10.20" text-anchor="start" fill="#c40000" stroke="#c40000" stroke-width="0.20" textLength="21.6" lengthAdjust="spacingAndGlyphs">32 W</text>
<path d="M35.3,364.4 35.6,363.8 36.1,362.8 36.7,361.7 37.2,360.4 37.8,358.9 38.3,357.2 38.6,356.1 38.8,355.0 39.1,353.8 39.3,352.7 39.5,351.7 39.8,350.6 40.0,349.3 40.2,347.7 40.4,346.3 40.6,344.9 40.8,343.8 41.0,342.5 41.1,341.2 41.3,340.0 41.5,338.6 41.6,337.2 41.8,335.7 41.9,334.4 42.1,333.3 42.2,332.1 42.3,330.9 42.4,329.7 42.6,328.5 42.7,327.2 42.8,326.0 42.9,325.0 43.0,324.0 43.1,322.9 43.2,321.4 43.3,319.9 43.4,318.9 43.5,318.1 43.5,316.9 43.6,315.6 43.7,314.2 43.8,312.6 43.9,311.2 43.9,310.0 44.0,308.7 44.1,307.4 44.2,306.4 44.3,305.2 44.4,303.7 44.5,302.3 44.6,301.1 44.7,299.9 44.8,298.8 45.0,297.5 45.1,296.0 45.2,294.8 45.4,293.6 45.5,292.3 45.6,290.9 45.8,289.5 45.9,288.4 46.1,287.5 46.2,286.5 46.4,285.1 46.5,283.7 46.7,282.5 46.8,281.1 47.0,279.7 47.2,278.4 47.4,277.3 47.5,275.9 47.7,274.6 47.9,273.2 48.1,271.9 48.3,270.7 48.4,269.6 48.6,268.5 48.8,267.5 49.2,265.6 49.6,264.1 50.0,262.9 50.4,262.0 50.8,261.0 51.2,260.0 51.9,258.8 52.6,257.5 53.3,256.3 54.0,255.6 55.0,255.0 56.1,254.6 57.2,254.2 58.9,254.0 60.5,254.1 62.1,254.6 63.3,255.2" fill="none" stroke="#c40000" stroke-width="1.35" stroke-linejoin="round" stroke-linecap="round"/>
<path d="M78.0,263.6 78.8,263.9 80.0,264.5 81.4,265.2 82.8,266.0 84.1,266.6 85.3,267.1 86.6,267.6 87.8,268.4 89.0,269.1 90.1,269.4 91.4,270.0 92.6,270.6 93.8,271.1 95.0,271.6 96.3,272.1 97.6,272.8 98.8,273.5 100.0,274.1 101.4,275.1 102.8,276.0 104.0,276.8 105.1,277.5 106.1,278.1 107.0,278.8 107.9,279.5 108.7,280.3 109.5,281.5 110.0,282.5 110.5,283.4 111.0,284.5 111.5,286.3 111.8,287.5 112.1,288.6 112.4,289.9 112.7,291.3 113.0,292.6 113.3,294.0 113.5,295.1 113.8,296.3 114.0,297.6 114.3,298.9 114.5,300.1 114.8,301.3 115.0,302.5 115.3,303.8 115.5,305.0 115.8,306.2 116.0,307.5 116.3,308.9 116.5,310.1 116.7,311.1 116.9,312.2 117.1,313.5 117.4,314.9 117.6,316.2 117.8,317.3 118.0,318.4 118.2,319.7 118.4,320.8 118.6,321.9 118.8,323.1 118.9,324.4 119.1,325.6 119.3,326.7 119.5,327.8 119.7,329.2 119.9,330.5 120.1,331.9 120.3,333.2 120.5,334.4 120.8,335.6 121.0,336.9 121.3,338.3 121.5,339.5 121.8,340.9 122.1,342.1 122.4,343.2 122.7,344.4 123.0,345.5 123.5,347.0 124.1,348.1 124.6,349.1 125.2,350.2 125.8,351.5 126.5,352.7 127.3,353.6 128.0,354.5 129.0,355.7 130.2,356.9 131.3,358.0 132.4,358.8 133.6,359.6 135.0,360.5 136.1,361.3 137.1,361.8 138.5,362.0 140.3,362.1 141.2,362.3 142.3,362.6 143.4,362.7 144.6,363.0 145.9,363.2 147.2,363.3 148.5,363.2 149.8,363.1 151.1,363.0 152.4,363.1 153.6,363.2 154.9,363.2 156.2,363.2 157.5,363.1 158.7,363.0 160.0,362.9 161.3,362.9 162.5,362.9 163.8,362.8 165.0,362.5 166.4,362.4 167.8,362.4 169.3,362.4 170.7,362.3 172.1,362.0 173.4,361.9 174.6,361.9 175.7,361.9 176.6,361.7 178.3,361.2 179.0,360.5 179.6,359.3 180.0,358.3 180.3,357.3 180.7,356.1 181.0,354.8 181.2,353.4 181.5,351.9 181.7,350.6 181.9,349.6 182.0,348.6 182.2,347.5 182.3,346.0 182.5,344.7 182.6,343.3 182.8,341.8 182.9,340.7 183.1,339.8 183.2,338.7 183.4,337.2 183.5,336.0 183.7,335.1 183.8,333.9 184.0,332.5 184.1,331.3 184.3,330.0 184.4,328.6 184.6,327.6 184.8,326.3 184.9,324.9 185.1,323.6 185.2,322.3 185.4,321.2 185.5,320.1 185.7,318.8 185.9,317.3 186.0,316.0 186.2,314.8 186.3,313.3 186.5,311.9 186.6,310.7 186.8,309.4 186.9,308.1 187.1,307.0 187.2,305.7 187.4,304.5 187.5,303.2 187.6,301.9 187.8,300.6 187.9,299.3 188.0,297.9 188.2,296.5 188.3,295.2 188.5,294.0 188.6,292.6 188.7,291.4 188.9,290.1 189.0,288.8 189.1,287.3 189.3,286.1 189.4,284.9 189.6,283.6 189.7,282.3 189.9,281.2 190.0,280.0 190.2,278.7 190.3,277.5 190.5,276.5 190.7,275.2 190.9,273.8 191.0,272.4 191.2,271.0 191.4,269.7 191.6,268.5 191.8,267.2 192.0,266.0 192.2,265.1 192.6,263.3 193.0,261.8 193.4,260.5 193.8,259.3 194.2,258.2 194.9,256.8 195.7,255.7 196.5,254.6 197.6,253.0 199.0,251.8 200.0,251.4 201.2,251.1 202.5,250.7 203.8,250.4 205.0,250.5 206.3,250.8 207.5,251.4 208.7,252.1 209.8,252.8 210.8,253.5 211.9,254.2 213.0,254.8 213.9,255.5 214.8,256.1 215.8,256.7 216.9,257.3 218.3,258.0 219.2,258.4 220.2,259.0 221.2,259.9 222.3,260.7 223.4,261.3 224.6,262.0 225.8,262.6 226.9,263.2 228.0,263.8 229.1,264.3 230.2,265.0 231.4,265.6 232.5,266.1 233.6,266.8 234.7,267.5 235.8,268.2 236.8,268.7 237.7,269.1 239.2,269.8 240.5,270.5 241.7,271.0 242.8,271.5 244.0,271.8 245.2,272.3 246.4,272.8 247.6,273.1 248.7,273.6 249.6,274.2 250.4,275.1 251.0,276.2 251.5,277.3 251.9,278.5 252.4,279.8 252.8,281.0 253.2,282.1 253.5,283.3 253.8,284.4 254.2,285.4 254.5,286.6 254.8,288.1 255.2,289.5 255.5,290.9 255.8,292.2 256.2,293.4 256.5,294.8 256.8,296.1 257.2,297.5 257.5,298.9 257.8,300.2 258.2,301.5 258.5,302.9 258.8,304.2 259.1,305.4 259.4,306.7 259.7,307.9 260.0,308.9 260.3,310.1 260.6,311.5 260.9,312.9 261.2,314.3 261.4,315.6 261.7,316.8 262.0,317.9 262.2,319.0 262.5,320.3 262.8,321.4 263.0,322.5 263.3,323.5 263.6,325.0 263.8,326.0 264.1,327.2 264.4,328.7 264.7,330.1 264.9,331.3 265.2,332.5 265.5,334.0 265.8,335.4 266.1,336.4 266.4,337.5 266.6,338.9 266.9,340.4 267.2,341.7 267.5,342.9 267.9,344.3 268.3,345.8 268.7,347.2 269.1,348.4 269.5,349.6 270.0,350.8 270.5,351.8 271.0,353.0 271.6,354.1 272.4,355.0 273.2,356.0 274.1,356.7 275.0,357.6 276.0,358.7 277.0,359.3 278.5,359.9 279.5,360.4 280.6,360.8 281.9,360.9 283.2,361.0 284.6,361.4 286.0,361.9 287.2,362.2 288.5,362.4 289.8,362.3 291.1,362.3 292.5,362.5 293.8,362.6 295.0,362.6 296.4,362.6 297.7,362.5 299.0,362.7 300.3,362.8 301.6,362.9 303.0,362.8 304.2,362.7 305.5,362.7 306.8,362.7 308.1,362.7 309.4,362.4 310.5,362.2 311.5,362.3 313.1,362.3 314.3,362.0 315.6,361.6 317.1,361.6 318.8,361.9 320.4,362.2 321.5,362.3" fill="none" stroke="#c40000" stroke-width="1.35" stroke-linejoin="round" stroke-linecap="round"/>
<path d="M35.3,315.3 35.7,314.6 36.3,313.4 36.9,311.7 37.5,310.0 37.8,308.9 38.1,307.6 38.5,306.6 38.8,305.5 39.1,303.9 39.5,302.0 39.8,300.5 40.1,299.6 40.3,298.6 40.6,297.6 40.8,296.4 41.1,294.9 41.3,293.6 41.6,292.4 41.8,291.0 42.1,289.4 42.4,288.2 42.6,286.8 42.9,285.6 43.1,284.5 43.4,283.4 43.6,282.0 43.9,280.6 44.1,279.3 44.4,278.2 44.7,277.0 45.0,275.9 45.3,274.7 45.6,273.1 45.9,271.5 46.2,270.1 46.6,269.1 47.3,267.8 48.0,266.8 48.7,265.3 49.5,263.7 50.6,262.6 51.7,262.3 52.9,262.3 54.2,262.4 55.5,262.9 56.9,263.4 58.1,263.5 59.4,264.1 60.5,265.1 61.3,265.2" fill="none" stroke="#7a00ff" stroke-width="1.35" stroke-linejoin="round" stroke-linecap="round"/>
<path d="M81.0,276.4 81.8,276.3 82.9,277.0 84.2,278.0 85.6,279.3 86.7,280.2 87.8,280.9 89.0,281.2 90.3,281.6 91.6,282.5 92.6,283.2 93.7,283.5 94.9,284.1 96.1,284.9 97.2,285.5 98.3,285.9 99.2,286.4 101.0,286.9 102.4,286.8 103.7,286.9 105.0,287.2 106.3,287.6 107.5,288.3 108.5,289.0 109.5,289.8 110.5,290.9 111.3,291.9 111.8,292.6 112.2,293.8 112.6,295.2 113.0,296.7 113.5,298.4 113.8,299.3 114.1,300.3 114.4,301.5 114.7,303.1 115.0,304.6 115.4,305.8 115.7,307.0 116.1,308.1 116.4,309.0 116.8,310.1 117.2,311.7 117.7,313.2 118.2,314.3 118.6,315.6 119.1,316.9 119.6,318.1 120.1,319.4 120.6,320.7 121.5,322.1 122.3,323.0 123.3,323.8 124.2,324.7 125.1,325.5 126.5,326.1 128.0,326.3 129.6,326.4 130.7,326.0 131.8,325.6 133.0,325.4 134.3,324.8 135.7,324.3 136.8,324.0 138.1,323.5 139.3,323.0 140.7,322.7 142.0,322.6 143.4,322.3 144.7,321.7 146.0,321.4 147.3,320.9 148.6,320.6 149.9,320.4 151.2,320.2 152.5,320.2 153.8,319.9 155.1,319.3 156.4,319.1 157.7,318.8 158.9,318.2 160.2,317.6 161.4,317.4 162.6,317.1 163.9,316.8 165.2,316.6 166.4,316.6 167.6,316.6 168.9,316.4 170.1,316.2 171.4,316.2 172.8,316.1 174.2,315.9 175.6,315.8 176.7,315.6 177.7,315.5 179.2,315.5 180.0,314.4 180.4,313.2 180.9,311.7 181.3,310.1 181.8,308.6 182.2,307.2 182.5,306.2 182.7,305.0 183.0,304.0 183.2,302.7 183.5,301.4 183.7,300.4 184.0,299.6 184.2,298.3 184.5,296.6 184.7,295.1 185.0,294.1 185.2,293.0 185.4,291.8 185.6,290.5 185.9,289.2 186.1,288.1 186.3,287.0 186.5,285.7 186.7,284.4 187.0,283.0 187.2,281.8 187.5,280.4 187.7,279.2 188.0,278.0 188.2,276.9 188.5,276.0 188.8,274.7 189.1,273.3 189.5,271.8 189.8,270.2 190.1,269.0 190.5,268.1 191.1,266.5 191.7,265.0 192.3,264.0 193.0,263.3 194.1,262.7 195.3,262.3 196.6,262.2 198.0,262.3 199.4,262.3 201.0,262.4 202.3,262.6 203.6,263.0 204.9,263.4 206.3,263.8 207.4,264.5 208.5,265.4 209.7,266.0 210.8,266.6 212.0,267.2 213.2,267.6 214.5,267.9 215.7,268.4 217.0,269.1 218.3,270.1 219.4,271.1 220.5,271.6 221.6,272.0 222.7,272.8 223.8,273.6 225.0,274.2 226.1,274.8 227.2,275.4 228.3,275.8 229.4,276.4 230.6,277.4 231.7,278.5 232.8,279.1 234.0,279.4 235.3,279.9 236.5,280.8 237.7,281.6 238.9,282.1 240.0,282.6 241.3,283.2 242.5,283.7 243.7,284.1 244.9,284.3 246.0,284.7 247.4,285.6 248.7,286.4 249.9,287.0 251.0,288.1 251.7,289.2 252.4,290.2 252.9,291.5 253.5,293.2 254.0,294.5 254.5,295.4 255.0,296.5 255.5,297.8 256.0,298.8 256.5,300.3 256.9,301.8 257.2,303.1 257.5,304.0 257.9,305.2 258.2,306.4 258.6,307.6 259.0,309.0 259.5,310.4 259.9,311.5 260.4,312.8 260.9,314.1 261.4,315.1 262.0,316.3 262.7,317.5 263.5,318.5 264.4,319.5 265.2,320.6 266.0,321.6 267.0,322.6 268.1,323.4 269.1,324.1 270.0,324.8 271.5,325.6 273.0,325.7 274.3,325.6 275.6,325.4 277.0,324.9 278.2,324.2 279.5,323.6 281.2,322.8 282.2,322.2 283.3,321.9 284.6,321.5 285.9,321.2 287.2,320.9 288.6,320.1 290.0,319.4 291.2,319.2 292.5,319.2 293.9,319.2 295.2,319.1 296.6,319.3 297.9,319.2 299.2,318.9 300.5,318.4 301.7,318.1 302.9,318.1 304.0,318.2 305.2,317.7 306.3,317.1 307.5,317.2 308.7,317.3 310.0,316.8 311.3,316.2 312.6,316.0 314.1,316.1 315.6,315.8 317.1,315.3 318.4,315.1 319.7,315.1 320.7,314.9 321.5,314.8" fill="none" stroke="#7a00ff" stroke-width="1.35" stroke-linejoin="round" stroke-linecap="round"/>
<path d="M35.3,296.0 35.8,295.1 36.4,293.7 37.2,292.4 38.0,291.1 38.7,289.8 39.3,288.8 39.8,287.3 40.4,286.0 41.0,285.1 41.5,284.2 42.1,283.2 42.8,281.7 43.5,280.4 44.2,279.2 44.9,277.8 45.5,276.8 46.5,276.1 47.3,275.6 48.3,275.0 50.0,274.9 51.8,275.6 53.2,276.3 54.7,277.1 55.7,277.6" fill="none" stroke="#2b2bff" stroke-width="1.35" stroke-linejoin="round" stroke-linecap="round"/>
<path d="M81.0,288.3 81.8,288.4 83.0,288.9 84.4,289.7 85.8,290.4 87.1,290.7 88.3,291.1 89.5,291.7 90.7,292.2 91.9,292.3 93.1,292.6 94.3,293.3 95.5,293.6 96.8,294.0 98.0,294.4 99.2,294.5 100.4,294.8 101.7,295.2 102.9,295.5 104.1,295.8 105.2,296.5 106.5,297.0 107.6,297.1 108.7,297.4 109.7,297.9 110.6,299.1 111.4,300.4 112.2,301.7 113.0,302.9 113.8,304.0 114.5,305.2 115.3,306.7 116.0,308.1 117.2,309.4 118.5,310.0 120.1,310.5 121.9,310.7 123.1,310.9 124.4,311.2 125.5,311.0 126.8,310.4 128.0,309.6 129.0,309.1 130.0,308.7 131.1,308.0 132.3,307.1 133.6,306.5 135.0,305.7 136.1,305.2 137.3,304.6 138.6,304.0 140.2,303.7 141.3,303.5 142.6,303.1 144.0,302.6 145.4,302.5 146.8,302.2 148.1,301.7 149.3,301.3 150.9,301.0 152.2,300.8 153.5,300.7 155.0,300.7 156.2,300.8 157.4,300.8 158.7,300.5 160.0,300.1 161.3,299.6 162.6,299.2 163.9,298.9 165.1,298.5 166.3,298.1 167.6,297.8 168.8,297.4 170.1,297.2 171.4,297.0 172.8,296.9 174.2,296.8 175.5,296.6 176.7,296.5 177.7,296.2 179.5,295.7 180.7,295.3 181.5,294.5 182.2,293.2 183.0,291.8 183.7,290.5 184.3,289.3 184.9,287.9 185.4,286.7 186.0,285.6 186.6,284.3 187.1,282.7 187.6,281.4 188.2,280.2 189.0,278.4 189.7,277.0 190.5,276.0 191.6,274.6 193.0,273.8 194.2,274.1 195.6,274.9 197.0,275.6 198.0,276.2 198.9,276.7 200.0,277.0 201.4,277.6 202.4,277.7 203.6,278.0 204.8,278.9 206.1,279.6 207.4,279.7 208.8,280.0 210.0,280.7 211.2,281.4 212.4,281.9 213.7,282.4 214.9,282.7 216.1,283.6 217.2,284.7 218.3,285.1 219.5,285.2 220.6,285.5 221.7,286.2 222.7,286.9 223.8,287.1 225.0,287.4 226.1,287.9 227.2,288.6 228.3,289.4 229.4,289.9 230.6,290.3 231.7,290.6 232.8,291.0 234.0,291.4 235.1,291.6 236.2,291.9 237.3,292.2 238.6,292.2 240.0,292.4 241.1,292.7 242.3,293.3 243.6,293.8 245.0,294.2 246.4,294.5 247.7,294.7 249.0,295.3 250.1,296.0 251.0,296.4 252.5,297.7 253.4,298.7 254.1,299.4 255.0,300.2 255.8,301.4 256.7,302.7 257.5,304.0 258.4,305.0 259.2,306.0 260.2,306.9 261.2,307.9 262.1,308.6 263.0,309.3 264.4,310.3 266.1,310.2 267.0,309.9 268.1,309.8 269.3,309.3 270.6,308.6 272.0,308.1 273.0,307.8 274.1,307.6 275.2,307.3 276.4,306.6 277.6,306.0 278.9,305.2 280.0,304.5 281.2,304.5 282.5,304.4 283.7,303.8 284.9,303.3 286.1,302.9 287.4,302.7 288.7,302.6 290.0,302.2 291.1,301.7 292.2,300.9 293.4,300.7 294.6,300.7 295.8,300.2 297.0,299.6 298.2,299.5 299.4,299.4 300.5,298.9 301.8,298.4 303.0,298.2 304.2,298.2 305.5,298.3 306.7,298.0 307.8,297.6 308.9,297.7 310.0,297.5 311.6,297.2 313.1,297.2 314.5,296.7 315.8,296.2 317.0,296.1 318.9,296.1 320.4,296.3 321.5,296.8" fill="none" stroke="#2b2bff" stroke-width="1.35" stroke-linejoin="round" stroke-linecap="round"/>
<path d="M35.3,296.6 36.2,295.9 37.4,294.8 38.7,294.1 39.8,293.2 41.0,292.4 42.1,292.1 43.8,291.5 45.5,291.2 47.2,291.5 48.9,292.0 50.6,291.8 52.3,291.8 54.0,292.8 55.3,293.8" fill="none" stroke="#000000" stroke-width="1.35" stroke-linejoin="round" stroke-linecap="round"/>
<path d="M84.4,300.9 85.3,301.3 86.5,301.8 87.9,302.4 89.3,302.9 90.5,303.0 91.7,303.1 92.9,303.5 94.2,303.9 95.3,304.0 96.9,304.1 98.4,304.3 100.0,304.3 101.3,303.9 102.6,304.1 103.9,304.7 105.2,305.1 106.4,305.1 107.6,305.5 108.8,306.0 110.0,306.2 111.2,306.4 112.4,306.8 113.5,307.3 114.5,307.9 116.1,308.8 117.6,309.4 119.1,309.5 120.6,309.4 122.2,309.1 124.0,308.5 125.3,307.6 126.7,306.8 128.0,306.3 129.6,305.6 131.1,304.6 132.3,303.9 133.6,303.5 135.0,303.3 136.1,302.8 137.3,302.2 138.6,302.0 140.2,301.9 141.3,301.8 142.6,301.7 144.0,301.3 145.4,300.8 146.8,300.7 148.1,300.4 149.3,300.3 150.9,300.2 152.2,299.8 153.5,299.5 155.0,299.4 156.2,299.4 157.4,299.5 158.7,299.6 160.0,299.5 161.3,299.2 162.6,298.9 163.8,298.9 165.0,298.6 166.3,298.4 167.5,298.3 168.8,298.4 170.1,298.3 171.3,298.0 172.7,297.8 174.1,297.6 175.4,297.2 176.8,297.0 178.0,297.0 179.2,297.0 180.6,296.6 181.9,296.2 183.1,295.5 184.1,294.9 185.2,294.3 186.4,293.3 187.4,292.2 188.5,291.4 189.7,290.9 190.8,291.0 191.9,291.2 193.1,291.7 194.4,292.2 195.8,292.6 196.8,292.8 197.9,293.2 199.1,293.8 200.3,294.5 201.5,294.8 202.7,295.0 203.9,295.6 205.0,296.0 206.3,296.1 207.5,296.5 208.7,296.9 209.9,296.9 211.1,296.9 212.3,297.2 213.5,297.5 214.7,297.7 215.9,298.1 217.1,298.4 218.4,298.6 219.6,298.9 220.8,299.4 222.0,299.8 223.2,300.2 224.4,300.3 225.5,300.4 226.7,300.8 227.9,301.2 229.1,301.4 230.4,301.7 231.5,301.9 232.7,301.8 233.9,301.8 235.1,302.2 236.3,302.7 237.5,302.8 238.8,303.0 240.0,303.3 241.3,303.4 242.6,303.4 244.0,303.7 245.4,303.9 246.7,304.0 247.9,304.3 249.0,305.0 250.0,305.3 251.7,305.7 252.7,306.0 253.7,306.1 255.1,306.4 256.6,307.4 258.0,308.2 259.3,308.4 260.6,308.8 262.0,309.5 263.2,309.6 264.6,309.0 266.0,308.7 267.5,308.4 268.7,308.0 270.0,307.6 271.3,307.1 272.6,306.6 274.0,305.9 275.1,305.3 276.3,305.2 277.5,305.5 278.7,305.0 279.9,304.6 281.2,304.3 282.4,304.0 283.5,303.4 284.8,302.8 286.0,302.3 287.3,301.8 288.6,301.7 290.0,301.4 291.2,300.9 292.5,300.8 293.9,300.8 295.2,300.4 296.6,299.8 297.9,299.2 299.2,298.8 300.5,298.8 301.9,299.1 303.2,299.2 304.5,298.9 305.8,298.9 307.2,298.8 308.5,298.8 310.0,298.7 311.3,298.3 312.6,298.3 314.1,298.7 315.6,299.0 317.1,299.2 318.4,299.0 319.7,298.7 320.7,298.7 321.5,298.3" fill="none" stroke="#000000" stroke-width="1.35" stroke-linejoin="round" stroke-linecap="round"/>
<path d="M35.3,311.9 36.7,311.9 38.5,311.5 39.7,311.1 40.9,311.3 42.1,311.8 43.6,311.4 45.0,311.0 46.4,311.6 47.8,312.0 49.6,312.0 51.2,312.0 52.7,311.6" fill="none" stroke="#b8671f" stroke-width="1.35" stroke-linejoin="round" stroke-linecap="round"/>
<path d="M84.4,312.7 85.3,312.4 86.5,312.6 87.9,312.7 89.4,313.4 90.9,314.1 92.3,313.5 93.6,313.2 94.8,313.8 96.0,313.9 97.3,313.8 98.6,313.8 100.0,313.9 101.2,314.1 102.4,314.4 103.7,314.6 105.0,314.5 106.3,314.1 107.6,314.0 108.8,314.2 110.0,314.6 111.4,314.6 112.7,314.2 114.0,314.4 115.2,314.9 116.4,314.2 117.6,313.2 118.9,313.3 120.1,313.7 121.4,313.8 122.6,314.1 123.9,314.4 125.1,314.0 126.5,313.7 127.8,313.8 129.2,313.8 130.5,313.6 132.0,313.2 133.3,312.8 134.7,313.0 136.1,313.2 137.5,312.9 138.9,313.0 140.2,313.6 141.5,313.5 142.8,313.4 144.1,313.3 145.3,313.0 146.6,313.3 147.8,313.5 149.0,313.5 150.2,313.6 151.4,313.9 152.6,314.1 153.8,313.9 155.0,313.5 156.2,313.7 157.5,314.6 158.8,315.1 160.1,315.0 161.3,315.0 162.6,315.2 163.9,315.5 165.1,315.4 166.3,315.0 167.6,315.2 168.8,315.4 170.1,315.2 171.4,315.0 172.6,314.9 173.9,314.8 175.2,315.3 176.4,316.4 177.7,316.4 178.9,315.8 180.1,315.5 181.3,314.7 182.5,314.0 183.8,314.4 185.2,315.5 186.3,316.0 187.5,315.6 188.7,315.2 189.9,315.3 191.2,315.1 192.5,315.1 193.7,315.4 195.0,315.5 196.2,315.3 197.5,315.1 198.7,315.3 200.0,315.8 201.2,316.0 202.5,316.1 203.7,315.9 205.0,315.4 206.2,315.2 207.5,315.3 208.8,315.5 210.0,316.0 211.2,316.4 212.5,316.6 213.8,316.1 215.0,315.8 216.2,316.2 217.4,316.5 218.5,316.6 219.7,317.1 220.9,317.2 222.1,316.6 223.5,316.8 225.0,316.9 226.1,316.4 227.3,316.6 228.5,316.6 229.8,316.6 231.1,317.2 232.5,317.2 233.9,316.9 235.2,317.2 236.5,317.4 237.7,317.5 238.9,317.4 240.0,317.0 241.5,316.6 242.8,316.6 244.0,316.3 245.2,316.2 246.3,316.8 247.5,316.6 248.7,315.7 250.0,315.6 251.1,316.1 252.3,316.2 253.5,315.9 254.8,315.7 256.0,315.6 257.2,315.6 258.5,315.7 259.7,315.8 260.9,316.0 262.0,316.0 263.4,316.0 264.7,316.4 265.9,316.7 267.2,316.7 268.4,316.5 269.6,316.3 270.8,316.2 272.0,316.5 273.4,316.9 274.7,316.9 276.0,316.5 277.3,316.1 278.6,316.2 279.9,317.0 281.2,317.5 282.5,317.1 283.7,316.5 284.9,316.7 286.2,316.8 287.4,316.6 288.7,316.7 290.0,316.6 291.2,316.3 292.4,316.4 293.7,317.1 294.9,317.1 296.2,316.7 297.5,316.8 298.7,317.4 300.0,317.5 301.2,317.5 302.5,317.6 303.7,317.1 304.9,316.8 306.1,317.1 307.4,317.1 308.7,316.9 310.0,316.7 311.3,316.3 312.7,316.2 314.1,316.8 315.6,317.1 317.1,317.0 318.5,317.3 319.7,317.1 320.7,316.7 321.5,317.0" fill="none" stroke="#b8671f" stroke-width="1.35" stroke-linejoin="round" stroke-linecap="round"/>
<text x="66.30" y="262.10" font-size="10.20" text-anchor="start" fill="#c40000" stroke="#c40000" stroke-width="0.20" textLength="21.5" lengthAdjust="spacingAndGlyphs">32 W</text>
<text x="56.80" y="274.90" font-size="10.20" text-anchor="start" fill="#7a00ff" stroke="#7a00ff" stroke-width="0.20" textLength="21.6" lengthAdjust="spacingAndGlyphs">64 W</text>
<text x="57.30" y="288.10" font-size="10.20" text-anchor="start" fill="#2b2bff" stroke="#2b2bff" stroke-width="0.20" textLength="21.7" lengthAdjust="spacingAndGlyphs">96 W</text>
<text x="56.00" y="302.90" font-size="10.20" text-anchor="start" fill="#000000" stroke="#000000" stroke-width="0.20" textLength="26" lengthAdjust="spacingAndGlyphs">128 W</text>
<text x="56.00" y="316.90" font-size="10.20" text-anchor="start" fill="#b8671f" stroke="#b8671f" stroke-width="0.20" textLength="26" lengthAdjust="spacingAndGlyphs">160 W</text>
<path d="M35.1,463.0 35.2,463.5 35.2,464.3 35.3,465.4 35.4,466.6 35.5,467.8 35.6,469.1 35.7,470.5 35.8,471.9 35.9,473.4 36.0,475.0 36.1,476.6 36.2,478.1 36.3,479.1 36.3,480.3 36.4,481.5 36.5,482.9 36.6,484.3 36.6,485.7 36.7,487.0 36.8,488.2 36.9,489.4 37.0,490.7 37.0,492.0 37.1,493.5 37.2,494.8 37.3,495.9 37.4,497.1 37.4,498.6 37.5,499.7 37.6,500.9 37.7,502.5 37.8,504.0 37.8,505.2 37.9,506.3 38.0,507.5 38.1,508.8 38.2,510.4 38.3,511.8 38.3,512.8 38.4,513.9 38.5,515.1 38.6,516.3 38.7,517.6 38.8,518.9 38.9,520.0 39.0,521.2 39.1,522.7 39.2,524.1 39.3,525.5 39.4,526.7 39.5,527.8 39.6,529.0 39.7,530.2 39.9,531.4 40.0,532.5 40.1,533.5 40.3,535.0 40.5,536.5 40.7,538.0 40.9,539.4 41.1,540.8 41.3,542.1 41.5,543.3 41.7,544.4 41.9,545.2 42.6,547.5 43.4,547.9 44.4,546.9 45.5,545.1 46.0,544.1 46.5,543.0 47.1,542.0 47.7,541.0 48.2,539.9 49.1,538.5 50.0,537.2 50.9,536.0 52.1,535.6 53.5,536.1 54.5,536.6 55.6,537.5 56.8,538.4 58.0,539.0 59.2,539.5 60.5,540.2 61.8,540.9 63.0,541.5 64.1,542.2 65.0,543.1 66.0,543.9 67.3,544.5 68.3,544.8 69.3,545.1 70.4,545.4 71.6,545.7 72.9,546.2 74.5,546.8 75.6,547.0 76.7,547.2 78.0,547.6 79.4,547.9 80.7,548.2 82.1,548.6 83.5,548.7 84.8,548.7 86.1,549.1 87.2,549.6 88.7,550.1 90.0,550.4 91.3,550.5 92.5,550.7 93.7,551.1 95.0,551.4 96.3,551.7 97.6,551.8 98.9,551.9 100.3,552.1 101.7,552.2 103.0,552.3 104.3,552.5 105.3,552.7 106.2,552.7 108.0,551.4 108.5,550.4 108.9,549.3 109.4,547.7 109.8,545.7 110.0,544.8 110.2,543.7 110.5,542.5 110.7,541.3 110.9,540.0 111.1,538.8 111.3,537.5 111.5,536.1 111.7,534.7 111.8,533.6 112.0,532.6 112.1,531.7 112.3,530.5 112.4,529.1 112.6,527.2 112.7,526.2 112.8,525.1 112.8,524.1 112.9,522.9 113.0,521.9 113.1,520.5 113.2,519.2 113.3,518.0 113.4,516.6 113.5,515.1 113.6,513.9 113.7,512.5 113.8,511.2 113.9,510.0 114.0,508.7 114.0,507.5 114.1,506.5 114.2,505.1 114.3,503.7 114.4,502.3 114.4,500.9 114.5,499.4 114.5,498.0 114.6,496.9 114.7,495.9 114.7,494.6 114.8,493.1 114.8,491.9 114.9,490.8 114.9,489.7 115.0,488.6 115.1,487.5 115.1,486.3 115.2,485.1 115.3,483.5 115.4,482.0 115.5,480.6 115.7,479.1 115.8,477.9 115.9,476.7 116.1,475.7 116.2,474.7 116.3,473.6 116.5,472.6 116.6,471.5 116.8,470.1 117.0,468.5 117.2,467.1 117.5,465.8 117.7,464.5 117.9,463.4 118.1,462.6 118.3,461.9 119.5,459.8 120.7,461.3 121.2,462.3 121.7,463.4 122.4,464.9 123.1,466.5 123.7,467.7 124.4,468.8 125.2,470.1 126.0,471.4 126.8,472.6 127.9,473.8 129.1,474.7 130.4,475.4 131.6,475.5 132.8,475.4 134.0,475.0 135.2,474.4 136.4,473.8 137.6,473.4 138.8,473.3 140.0,473.0 141.3,472.4 142.5,472.1 143.9,472.0 145.3,471.3 146.5,470.6 147.3,470.5" fill="none" stroke="#c40000" stroke-width="1.35" stroke-linejoin="round" stroke-linecap="round"/>
<path d="M163.0,458.0 163.8,457.1 165.0,456.3 166.2,455.2 167.3,454.2 168.4,453.2 169.3,452.3 170.3,451.3 171.3,450.3 172.3,449.4 173.3,448.5 174.3,447.5 175.3,446.5 176.3,445.5 177.6,444.0 178.7,443.3 179.2,443.1 179.6,446.0 179.6,446.8 179.7,447.7 179.7,448.5 179.8,449.3 179.8,450.2 179.9,451.3 179.9,452.5 180.0,453.7 180.0,455.0 180.1,456.3 180.1,457.6 180.2,459.2 180.2,460.6 180.3,462.0 180.3,463.5 180.4,465.1 180.4,466.8 180.5,468.5 180.5,469.3 180.6,470.3 180.6,471.4 180.7,472.6 180.7,473.8 180.7,474.9 180.8,476.2 180.8,477.7 180.9,479.0 180.9,480.0 181.0,481.1 181.0,482.5 181.1,483.8 181.1,485.0 181.1,486.4 181.2,487.8 181.2,489.3 181.3,490.8 181.3,492.0 181.4,493.1 181.4,494.6 181.5,495.9 181.5,497.0 181.6,498.3 181.6,499.5 181.6,500.5 181.7,501.5 181.7,502.6 181.8,503.6 181.8,504.5 181.9,506.2 181.9,507.8 182.0,509.2 182.0,510.5 182.1,511.8 182.2,513.3 182.2,514.6 182.3,515.7 182.3,516.9 182.4,518.1 182.4,519.2 182.5,520.2 182.5,521.2 182.6,522.3 182.7,523.3 182.7,524.1 182.8,525.1 182.9,526.9 183.1,528.4 183.2,529.7 183.4,530.9 183.6,532.0 183.7,533.0 183.9,534.1 184.1,535.0 184.2,535.7 184.6,537.6 184.9,538.7 185.3,539.5 186.0,541.5 187.0,542.3 187.4,541.5 187.9,540.3 188.4,538.8 188.9,537.1 189.5,535.5 190.1,534.4 190.8,533.5 191.6,532.2 192.5,530.9 193.3,530.0 194.1,529.2 194.9,528.6 196.0,528.2 197.0,528.6 198.5,529.6 199.2,530.0 200.0,530.8 200.8,531.7 201.7,532.6 202.7,533.6 203.7,534.6 204.8,535.4 205.9,536.1 207.0,537.0 208.1,537.5 209.2,537.9 210.3,538.3 211.5,538.7 212.7,539.2 213.9,539.9 215.2,540.5 216.5,540.9 217.8,541.1 219.1,541.4 220.2,541.8 221.4,542.0 222.6,542.2 223.8,542.5 225.1,542.8 226.3,542.7 227.6,542.8 228.9,543.2 230.1,543.6 231.3,543.9 232.5,544.0 233.6,544.3 234.9,544.5 236.3,544.7 237.6,544.9 238.9,545.2 240.2,545.6 241.4,546.0 242.6,546.2 243.7,546.2 244.7,546.4 245.7,546.7 247.4,547.1 248.7,547.5 249.9,547.8 250.9,547.9 251.7,547.6 252.8,547.7 253.5,546.2 253.7,545.4 253.9,544.4 254.1,543.4 254.3,542.2 254.6,540.8 254.8,539.6 255.0,538.3 255.2,536.8 255.4,535.2 255.6,533.5 255.8,531.9 255.9,531.0 256.0,530.1 256.1,528.9 256.2,527.8 256.3,527.0 256.3,526.0 256.4,524.6 256.5,523.2 256.6,521.8 256.6,520.6 256.7,519.6 256.8,518.4 256.9,516.9 257.0,515.5 257.0,514.2 257.1,512.8 257.2,511.6 257.3,510.2 257.4,509.0 257.4,508.0 257.5,506.8 257.6,505.5 257.7,504.2 257.7,503.0 257.8,501.8 257.9,500.5 258.0,499.1 258.1,497.8 258.2,496.5 258.2,495.1 258.3,494.0 258.4,492.8 258.5,491.5 258.6,490.1 258.6,488.6 258.7,487.4 258.8,486.5 258.9,485.2 258.9,483.9 259.0,483.0 259.1,481.9 259.1,480.7 259.2,479.8 259.3,478.2 259.4,476.6 259.5,475.3 259.6,474.0 259.6,472.6 259.7,471.3 259.8,470.1 259.8,468.9 259.9,467.9 260.0,466.8 260.0,465.8 260.1,464.9 260.2,463.8 260.3,462.2 260.4,460.8 260.6,459.5 260.7,458.1 260.8,456.6 261.0,455.4 261.1,454.3 261.2,453.2 261.4,452.0 261.5,451.0 261.6,450.3 262.2,447.8 262.8,447.2 264.0,449.2 264.3,450.1 264.7,451.0 265.1,452.3 265.5,453.6 266.0,454.9 266.4,456.2 266.9,457.7 267.5,458.9 268.1,460.0 268.7,461.1 269.3,462.2 270.3,463.4 271.2,464.1 272.2,464.6 273.6,464.4 275.4,463.5 276.4,463.1 277.5,462.8 278.8,462.4 280.1,462.0 281.4,461.6 282.5,461.1 283.7,460.4 285.0,460.0 286.2,459.6 287.5,459.0 288.7,458.4 289.7,457.8 290.8,457.1 291.8,456.2 292.8,455.3 293.8,454.6 294.9,454.2 295.9,453.6 297.0,452.7 298.1,451.7 299.2,450.9 300.2,450.2 301.3,449.7 302.3,449.1 303.2,448.5 304.4,447.6 305.5,446.6 306.5,445.6 307.3,444.9 308.0,444.2 309.2,443.0 309.8,442.4 310.4,441.5 311.2,440.1 312.1,438.9 313.0,437.6 314.0,436.6 315.0,436.1 316.1,435.5 317.3,434.7 318.6,433.7 319.7,432.9 320.6,432.4 321.3,432.1" fill="none" stroke="#c40000" stroke-width="1.35" stroke-linejoin="round" stroke-linecap="round"/>
<path d="M35.1,521.1 35.3,521.6 35.5,522.9 35.7,524.3 36.0,525.8 36.3,526.9 36.6,528.0 36.8,529.5 37.1,530.9 37.3,531.8 37.6,533.1 37.8,534.5 38.1,535.7 38.4,536.8 38.7,537.8 39.0,539.1 39.4,540.7 39.7,542.5 40.0,544.0 40.4,544.9 40.7,545.8 41.0,546.9 41.6,548.8 42.2,549.6 42.8,550.1 44.1,549.9 45.5,548.8 46.4,548.0 47.3,546.9 48.2,545.7 49.5,544.6 50.9,544.3 52.0,544.5 53.1,544.8 54.4,545.5 55.5,546.0 56.6,546.7 57.8,547.5 58.9,548.1 60.2,548.7 61.5,549.3 63.0,549.9 64.0,550.0 65.2,550.0 66.4,550.6 67.7,551.4 69.1,551.7 70.2,551.8 71.5,551.9 72.7,551.8 74.1,551.9 75.4,552.3 76.8,552.7 78.1,553.1 79.4,553.3 80.6,553.6 81.9,553.8 83.2,553.7 84.5,553.7 85.8,554.2 87.2,554.5 88.3,554.5 89.5,554.5 90.8,554.5 92.0,554.6 93.3,554.5 94.5,554.6 95.8,554.8 97.0,555.0 98.1,555.1 99.5,555.4 101.0,556.0 102.4,556.6 103.8,556.7 105.0,556.5 106.2,556.5 107.1,556.4 108.9,555.7 109.8,554.5 111.1,553.7 112.3,551.8 112.6,551.0 112.8,550.2 113.1,549.1 113.4,547.8 113.6,546.7 113.9,545.6 114.2,544.1 114.4,542.8 114.7,541.6 114.9,540.5 115.1,538.9 115.3,537.6 115.5,536.6 115.7,535.4 115.9,533.9 116.1,532.2 116.3,530.6 116.5,529.4 116.6,528.6 116.8,527.6 117.0,526.6 117.1,525.5 117.7,522.9 118.3,522.8 119.4,523.6 120.7,525.1 121.4,526.5 122.1,527.7 123.1,528.5 124.2,529.0 125.4,529.8 126.7,530.5 128.0,530.8 129.2,530.7 130.3,530.3 131.4,529.8 132.8,529.3 133.9,528.8 135.3,528.3 136.7,528.2 138.0,527.6 139.2,526.9 140.0,526.8" fill="none" stroke="#7a00ff" stroke-width="1.35" stroke-linejoin="round" stroke-linecap="round"/>
<path d="M166.6,517.1 167.5,517.2 168.7,516.5 170.1,515.6 171.5,515.5 172.7,515.5 174.0,514.7 175.3,514.2 176.5,514.3 177.5,514.3 178.9,513.6 179.9,513.3 180.4,513.9 180.7,515.1 181.1,517.5 181.2,518.6 181.3,519.3 181.5,520.0 181.6,521.3 181.7,523.1 181.8,524.6 181.9,525.8 182.1,527.3 182.2,528.6 182.3,529.7 182.4,531.2 182.6,532.7 182.7,534.2 182.8,535.6 183.0,536.7 183.1,537.9 183.2,539.0 183.4,539.8 183.5,540.8 183.8,542.9 184.1,544.4 184.4,545.5 184.8,546.6 185.8,548.1 187.2,548.1 188.1,547.2 189.2,546.2 190.3,545.2 191.3,544.3 192.5,543.3 193.6,542.4 194.9,541.9 195.9,542.2 196.8,542.9 198.0,543.5 199.8,544.2 200.7,544.4 201.7,544.9 202.8,545.3 204.0,545.7 205.2,546.4 206.5,547.1 207.8,547.6 209.1,548.0 210.5,548.4 211.8,548.9 212.9,549.0 214.1,549.2 215.2,549.8 216.4,550.3 217.7,550.2 218.9,550.3 220.1,550.9 221.4,551.2 222.6,551.0 223.9,551.0 225.1,551.5 226.3,552.0 227.5,552.0 228.8,552.0 230.0,551.9 231.3,551.6 232.5,551.7 233.8,552.0 235.0,552.4 236.2,552.8 237.4,553.1 238.6,553.0 239.7,553.0 240.8,553.2 242.2,553.5 243.6,554.0 245.0,554.1 246.3,554.3 247.6,554.4 248.8,554.3 249.9,554.4 250.8,554.4 251.7,554.3 253.4,554.0 254.2,553.0 254.9,551.5 255.2,550.7 255.5,549.5 255.7,548.4 255.9,547.2 256.2,545.7 256.4,544.2 256.6,542.9 256.8,541.5 257.0,540.1 257.2,538.6 257.3,537.5 257.5,536.0 257.7,534.3 257.9,533.0 258.1,531.9 258.3,530.8 258.5,529.6 258.8,528.3 259.2,527.2 259.5,525.9 259.9,524.5 260.3,523.4 260.7,522.5 261.1,521.7 262.4,520.1 264.0,520.2 264.6,520.8 265.4,521.5 266.1,522.7 266.9,524.1 267.7,525.1 268.4,525.8 269.7,526.8 271.0,527.6 272.7,527.8 273.7,527.4 274.9,527.0 276.2,526.6 277.5,525.8 278.8,525.1 280.0,524.8 281.2,524.4 282.3,523.9 283.4,523.5 284.6,522.8 285.9,521.9 287.2,521.0 288.3,520.7 289.5,520.7 290.7,520.6 291.9,520.2 293.2,519.8 294.4,519.2 295.7,518.5 297.0,518.1 298.2,517.8 299.3,517.4 300.6,517.0 301.8,516.3 303.0,515.6 304.2,515.3 305.4,515.0 306.5,514.8 307.5,514.4 308.9,513.8 310.3,513.3 311.5,512.7 312.7,512.1 313.8,511.9 315.0,512.1 316.5,512.0 318.0,511.3 319.4,510.3 320.6,509.8 321.5,509.5" fill="none" stroke="#7a00ff" stroke-width="1.35" stroke-linejoin="round" stroke-linecap="round"/>
<path d="M35.1,542.5 35.5,543.5 36.1,545.1 36.8,546.7 37.5,548.3 38.1,549.6 38.8,550.9 39.4,552.2 40.1,553.4 41.0,554.7 41.9,555.6 42.8,556.4 44.1,556.3 45.5,555.5 46.9,554.8 48.2,553.9 49.4,553.2 50.9,552.9 52.1,552.6 53.5,553.0 55.3,553.9 56.4,553.9 57.6,553.9 58.9,554.4 60.3,555.1 61.7,555.8 63.0,556.2 64.2,556.4 65.3,556.6 66.4,556.9 67.6,557.2 69.1,557.5 70.9,557.5 71.9,557.4 72.9,557.4 74.1,557.4 75.2,557.5 76.5,557.9 77.8,558.3 79.1,558.1 80.4,558.0 81.8,558.5 83.1,558.8 84.5,559.0 85.9,559.4 87.2,559.4 88.4,559.1 89.6,558.7 90.9,558.6 92.3,559.2 93.6,559.6 95.0,559.3 96.4,559.2 97.7,559.3 99.0,559.4 100.3,559.7 101.5,560.1 102.6,560.2 103.6,560.1 104.5,560.0 105.3,560.2 107.6,560.1 108.3,559.4 108.9,558.6 110.0,557.8 111.0,556.6 111.8,555.6 112.7,554.6 113.5,553.4 114.1,552.2 114.7,550.7 115.3,549.5 115.9,548.6 117.0,547.8 118.3,547.7 119.4,547.9 120.6,548.1 121.9,548.6 123.0,549.2 124.1,549.5 125.4,549.6 126.8,549.8 127.9,549.8 129.1,549.5 130.3,549.2 131.6,549.2 132.8,549.1 134.0,549.1 135.4,548.8 136.8,548.5 138.1,548.3 139.2,548.1 140.0,548.0" fill="none" stroke="#2b2bff" stroke-width="1.35" stroke-linejoin="round" stroke-linecap="round"/>
<path d="M166.6,543.2 167.6,542.9 169.0,542.7 170.5,542.8 172.0,542.9 173.4,542.8 174.9,542.6 176.3,542.4 177.5,542.2 179.2,542.2 180.4,543.0 180.9,544.0 181.4,545.4 181.9,546.9 182.3,548.2 182.7,549.3 183.0,550.5 183.4,551.8 184.0,553.2 185.0,555.0 186.3,556.3 187.7,556.7 188.9,556.5 190.1,555.6 191.4,554.2 192.5,553.7 193.7,553.2 194.8,552.6 196.1,552.3 197.0,552.4 198.0,552.5 199.0,552.8 200.4,553.5 202.2,554.1 203.1,554.2 204.1,554.4 205.2,554.5 206.3,554.6 207.5,555.0 208.8,555.3 210.1,555.5 211.4,555.7 212.7,555.8 214.0,556.0 215.4,556.4 216.7,556.6 217.8,556.5 219.0,556.6 220.2,557.1 221.4,557.4 222.6,557.5 223.8,557.5 225.0,557.6 226.2,557.9 227.5,558.2 228.7,558.2 229.9,558.3 231.2,558.4 232.4,558.7 233.6,559.0 234.8,559.0 236.1,558.9 237.5,559.0 238.8,559.4 240.2,559.5 241.6,559.5 242.9,559.6 244.3,559.7 245.5,559.6 246.7,559.6 247.8,559.8 248.8,559.7 249.7,559.7 250.5,560.0 252.7,559.8 253.0,559.0 254.1,558.5 255.3,557.7 256.2,556.7 257.1,555.4 258.0,553.9 258.5,552.9 259.0,551.5 259.5,549.8 260.1,548.2 260.6,547.0 261.1,546.1 262.4,545.9 264.0,547.1 264.9,547.7 266.0,548.3 267.2,549.1 268.4,549.9 269.8,550.2 271.0,550.2 272.3,550.1 273.7,549.7 275.1,549.5 276.5,549.6 278.0,549.3 279.3,548.9 280.5,548.6 281.8,548.7 283.2,548.6 284.5,548.0 285.8,547.8 287.2,548.1 288.4,548.1 289.6,547.8 290.8,547.3 292.0,546.9 293.2,546.7 294.5,546.5 295.7,546.2 297.0,546.1 298.3,546.1 299.6,545.7 301.0,545.2 302.4,545.0 303.8,544.7 305.1,544.4 306.3,544.3 307.5,544.3 308.9,543.9 310.3,543.2 311.5,542.8 312.7,542.9 313.8,543.3 315.0,543.4 316.5,542.9 318.0,542.6 319.4,542.2 320.6,541.7 321.5,542.0" fill="none" stroke="#2b2bff" stroke-width="1.35" stroke-linejoin="round" stroke-linecap="round"/>
<path d="M35.1,556.8 35.9,556.9 37.1,557.7 38.4,558.5 39.4,559.3 40.5,560.3 41.7,561.3 42.8,561.7 44.3,561.8 45.9,561.4 47.3,560.7 48.5,560.1 49.6,559.9 50.9,560.1 52.1,560.3 53.4,560.5 54.7,561.0 56.2,561.5 57.4,561.5 58.8,561.4 60.1,561.6 61.5,561.7 63.0,561.6 64.2,561.7 65.2,562.2 66.4,562.6 67.6,563.0 69.1,563.0 70.9,562.9 71.9,562.6 72.9,562.5 74.1,562.6 75.2,562.8 76.5,562.8 77.8,563.0 79.1,563.0 80.4,562.8 81.8,562.7 83.1,562.8 84.5,563.1 85.9,562.9 87.2,562.8 88.4,563.2 89.6,563.4 90.9,563.4 92.2,563.6 93.6,563.8 94.9,563.8 96.3,563.5 97.6,563.5 98.9,563.5 100.1,563.8 101.3,563.9 102.5,563.5 103.5,563.3 104.5,563.6 105.3,563.6 107.6,563.1 108.9,562.9 109.8,562.8 110.8,562.7 112.0,562.1 113.1,561.0 114.2,560.2 115.3,559.7 116.7,559.4 118.1,559.7 120.0,560.1 121.1,560.4 122.2,560.3 123.5,559.9 124.8,559.8 126.2,559.9 127.7,559.9 129.2,560.1 130.3,560.2 131.4,560.0 132.6,560.2 133.8,560.7 135.1,560.6 136.3,560.3 137.6,560.2 138.8,560.2 140.1,560.3 141.3,560.7 142.5,560.6 143.7,560.3 144.8,560.1 146.0,560.2 147.2,560.5 148.3,560.6 149.5,560.4 150.7,560.3 152.0,560.5 153.3,560.3 154.4,559.9 155.6,559.7 156.8,560.1 158.0,560.1 159.3,559.8 160.5,559.6 161.8,559.4 163.1,559.2 164.3,559.2 165.5,559.5 166.7,559.6 167.8,559.6 169.1,559.5 170.5,559.4 171.9,559.1 173.2,558.9 174.6,559.1 175.8,559.2 177.0,559.1 178.1,559.0 179.1,558.6 179.9,558.6 182.0,559.3 183.0,560.0 184.1,560.7 185.3,561.6 186.5,562.3 187.6,562.6 188.7,562.7 190.1,562.8 191.1,563.0 192.3,562.5 193.6,561.7 194.9,561.3 196.1,561.2 197.2,561.1 198.3,561.2 199.4,562.0 200.7,562.5 202.2,562.5 203.3,562.5 204.5,562.4 205.7,562.3 207.0,562.3 208.4,562.1 209.8,562.1 211.3,562.4 212.8,562.7 213.9,562.7 215.1,562.5 216.3,562.6 217.5,562.8 218.7,563.0 220.0,563.3 221.3,563.6 222.5,563.5 223.8,563.4 225.1,563.6 226.3,563.8 227.5,563.8 228.8,563.8 230.1,564.2 231.4,564.2 232.7,564.0 234.0,563.8 235.2,563.8 236.5,564.0 237.7,564.0 238.9,564.0 240.0,564.0 241.5,564.1 243.0,564.3 244.4,564.4 245.8,564.6 247.1,564.6 248.4,564.4 249.5,564.4 250.5,564.7 252.1,564.9 253.3,564.4 254.3,563.7 255.3,563.3 256.4,562.9 257.5,562.3 258.5,561.4 259.7,560.9 260.8,560.6 261.8,560.4 263.1,560.3 265.0,560.3 265.9,560.4 266.8,560.3 267.9,560.2 269.0,560.5 270.1,560.7 271.4,560.7 272.7,560.7 274.0,560.4 275.4,560.0 276.9,560.1 278.5,560.2 279.6,560.0 280.7,559.9 281.8,560.1 283.0,560.2 284.2,560.0 285.5,559.9 286.8,559.8 288.1,559.7 289.4,559.9 290.7,559.9 292.1,559.5 293.4,559.7 294.8,560.0 296.1,559.9 297.4,559.7 298.7,559.6 300.0,559.3 301.3,559.0 302.7,558.8 304.1,558.9 305.5,559.3 307.0,559.3 308.5,559.1 309.9,558.9 311.4,559.1 312.8,559.1 314.2,558.8 315.5,558.4 316.8,558.2 317.9,558.1 319.0,558.3 320.0,558.4 320.8,558.5 321.5,558.5" fill="none" stroke="#000000" stroke-width="1.35" stroke-linejoin="round" stroke-linecap="round"/>
<path d="M35.1,565.9 35.9,566.0 37.0,566.1 38.3,566.1 39.7,566.1 41.1,566.3 42.6,566.5 43.9,566.4 45.0,566.4 46.4,566.6 47.6,566.9 48.6,567.0 49.8,566.9 51.1,566.9 52.2,566.9 53.3,566.7 54.5,566.6 55.8,566.5 57.1,566.5 58.5,566.4 60.0,566.3 61.1,566.3 62.2,566.4 63.4,566.5 64.6,566.7 65.8,566.9 67.0,566.9 68.3,566.9 69.6,567.1 70.9,567.5 72.3,567.6 73.5,567.4 74.7,567.4 75.9,567.3 77.2,567.3 78.4,567.3 79.7,567.4 81.0,567.4 82.3,567.4 83.6,567.3 84.8,567.3 86.0,567.3 87.2,567.2 88.5,567.2 89.8,567.4 91.0,567.5 92.1,567.4 93.3,567.4 94.5,567.6 95.7,567.8 97.0,567.9 98.4,568.0 100.0,567.9 101.0,567.9 102.1,567.8 103.2,567.8 104.3,567.9 105.4,568.0 106.5,568.0 107.7,568.1 108.9,568.0 110.2,568.0 111.5,568.1 112.8,568.1 114.1,568.0 115.5,568.1 117.0,568.1 118.5,568.2 120.0,568.2 121.0,568.1 122.1,568.2 123.1,568.3 124.3,568.3 125.4,568.0 126.6,568.0 127.7,568.1 128.9,568.2 130.1,568.1 131.4,568.2 132.6,568.3 133.9,568.3 135.1,568.3 136.4,568.5 137.7,568.7 138.9,568.7 140.2,568.5 141.5,568.5 142.7,568.5 144.0,568.5 145.2,568.6 146.4,568.6 147.6,568.5 148.8,568.5 150.0,568.5 151.3,568.6 152.5,568.6 153.8,568.5 155.1,568.5 156.3,568.4 157.6,568.5 158.9,568.5 160.1,568.5 161.4,568.5 162.6,568.4 163.9,568.2 165.1,568.2 166.3,568.4 167.6,568.4 168.8,568.3 170.0,568.2 171.2,568.3 172.3,568.3 173.5,568.3 174.7,568.3 175.8,568.3 176.9,568.3 178.0,568.4 179.4,568.5 180.7,568.4 181.9,568.4 183.1,568.5 184.3,568.4 185.5,568.5 186.6,568.7 187.8,568.6 188.9,568.4 190.0,568.4 191.1,568.5 192.3,568.6 193.5,568.6 194.7,568.6 195.9,568.7 197.2,568.8 198.6,568.8 200.0,568.8 201.1,568.9 202.1,568.9 203.2,569.0 204.4,569.0 205.5,569.0 206.7,569.0 207.9,569.1 209.1,569.2 210.3,569.1 211.5,569.0 212.8,569.1 214.0,569.4 215.3,569.3 216.5,569.2 217.8,569.2 219.0,569.3 220.3,569.4 221.5,569.4 222.8,569.3 224.0,569.4 225.2,569.5 226.4,569.5 227.6,569.5 228.8,569.5 230.0,569.5 231.3,569.5 232.5,569.5 233.7,569.5 234.9,569.6 236.1,569.5 237.3,569.5 238.5,569.5 239.7,569.6 240.9,569.5 242.1,569.4 243.3,569.5 244.5,569.7 245.7,569.6 246.8,569.6 248.0,569.6 249.2,569.5 250.5,569.5 251.7,569.6 252.9,569.6 254.2,569.4 255.4,569.3 256.7,569.3 258.0,569.4 259.2,569.4 260.3,569.4 261.5,569.5 262.7,569.5 263.9,569.4 265.1,569.4 266.3,569.6 267.6,569.6 268.8,569.5 270.0,569.6 271.3,569.7 272.5,569.6 273.8,569.4 275.0,569.3 276.3,569.4 277.5,569.4 278.8,569.3 280.1,569.2 281.3,569.3 282.6,569.3 283.8,569.3 285.1,569.4 286.3,569.5 287.5,569.4 288.8,569.4 290.0,569.4 291.2,569.2 292.5,569.1 293.8,569.3 295.2,569.2 296.6,569.1 297.9,569.2 299.4,569.3 300.8,569.3 302.2,569.4 303.6,569.4 305.0,569.3 306.4,569.2 307.8,569.2 309.1,569.4 310.4,569.5 311.7,569.4 312.9,569.3 314.1,569.2 315.3,569.2 316.4,569.2 317.4,569.2 318.4,569.1 319.3,569.0 320.1,569.1 320.8,569.3 321.5,569.2" fill="none" stroke="#b8671f" stroke-width="1.50" stroke-linejoin="round" stroke-linecap="round"/>
<text x="140.80" y="469.30" font-size="10.20" text-anchor="start" fill="#c40000" stroke="#c40000" stroke-width="0.20" textLength="21.8" lengthAdjust="spacingAndGlyphs">32 W</text>
<text x="141.70" y="527.30" font-size="10.20" text-anchor="start" fill="#7a00ff" stroke="#7a00ff" stroke-width="0.20" textLength="22" lengthAdjust="spacingAndGlyphs">64 W</text>
<text x="143.00" y="550.20" font-size="10.20" text-anchor="start" fill="#2b2bff" stroke="#2b2bff" stroke-width="0.20" textLength="21.8" lengthAdjust="spacingAndGlyphs">96 W</text>
<text x="92.00" y="584.10" font-size="10.20" text-anchor="start" fill="#b8671f" stroke="#b8671f" stroke-width="0.20" textLength="26.3" lengthAdjust="spacingAndGlyphs">160 W</text>
<text x="177.40" y="583.90" font-size="10.20" text-anchor="start" fill="#000000" stroke="#000000" stroke-width="0.20" textLength="26.3" lengthAdjust="spacingAndGlyphs">128 W</text>
<path d="M90.50,578.70L81.30,569.40" stroke="#000" stroke-width="0.8"/>
<path d="M81.30,569.40L85.11,571.26L83.12,573.23Z" fill="#000"/>
<path d="M174.20,573.80L165.00,560.50" stroke="#000" stroke-width="0.8"/>
<path d="M165.00,560.50L168.43,562.99L166.12,564.59Z" fill="#000"/>
</svg>
</body></html>
